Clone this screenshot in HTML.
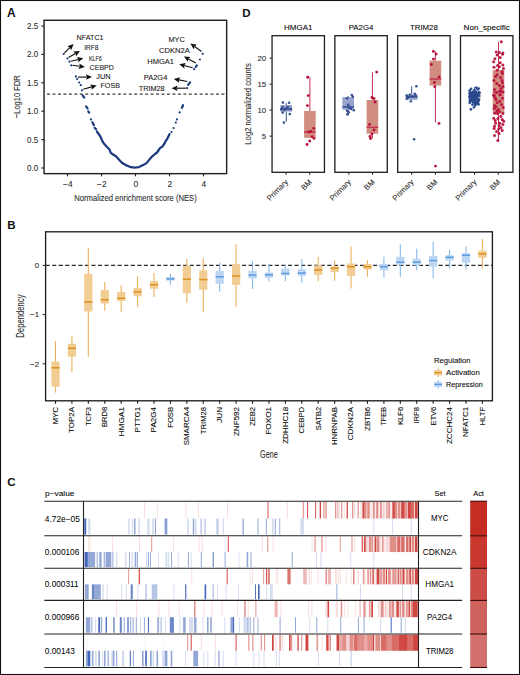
<!DOCTYPE html>
<html><head><meta charset="utf-8"><style>
html,body{margin:0;padding:0;background:#fff;}
body{width:520px;height:675px;overflow:hidden;}
svg{display:block;}
</style></head><body>
<svg width="520" height="675" viewBox="0 0 520 675" font-family="'Liberation Sans', sans-serif">
<rect x="0.5" y="0.5" width="519" height="674" fill="#fff" stroke="#111" stroke-width="1.1"/>
<text x="7.00" y="16.80" font-size="12" font-weight="bold" fill="#111">A</text>
<rect x="44.05" y="20.27" width="182.60" height="153.38" fill="none" stroke="#1e1e1e" stroke-width="1.4"/>
<line x1="41.30" y1="26.00" x2="44.05" y2="26.00" stroke="#1e1e1e" stroke-width="1.1"/>
<text x="38.20" y="28.90" font-size="8.9" stroke="#2a2a2a" stroke-width="0.08" text-anchor="end" textLength="11.20" lengthAdjust="spacingAndGlyphs" fill="#2a2a2a">2.5</text>
<line x1="41.30" y1="54.40" x2="44.05" y2="54.40" stroke="#1e1e1e" stroke-width="1.1"/>
<text x="38.20" y="57.30" font-size="8.9" stroke="#2a2a2a" stroke-width="0.08" text-anchor="end" textLength="11.20" lengthAdjust="spacingAndGlyphs" fill="#2a2a2a">2.0</text>
<line x1="41.30" y1="82.80" x2="44.05" y2="82.80" stroke="#1e1e1e" stroke-width="1.1"/>
<text x="38.20" y="85.70" font-size="8.9" stroke="#2a2a2a" stroke-width="0.08" text-anchor="end" textLength="11.20" lengthAdjust="spacingAndGlyphs" fill="#2a2a2a">1.5</text>
<line x1="41.30" y1="111.20" x2="44.05" y2="111.20" stroke="#1e1e1e" stroke-width="1.1"/>
<text x="38.20" y="114.10" font-size="8.9" stroke="#2a2a2a" stroke-width="0.08" text-anchor="end" textLength="11.20" lengthAdjust="spacingAndGlyphs" fill="#2a2a2a">1.0</text>
<line x1="41.30" y1="139.60" x2="44.05" y2="139.60" stroke="#1e1e1e" stroke-width="1.1"/>
<text x="38.20" y="142.50" font-size="8.9" stroke="#2a2a2a" stroke-width="0.08" text-anchor="end" textLength="11.20" lengthAdjust="spacingAndGlyphs" fill="#2a2a2a">0.5</text>
<line x1="41.30" y1="168.00" x2="44.05" y2="168.00" stroke="#1e1e1e" stroke-width="1.1"/>
<text x="38.20" y="170.90" font-size="8.9" stroke="#2a2a2a" stroke-width="0.08" text-anchor="end" textLength="11.20" lengthAdjust="spacingAndGlyphs" fill="#2a2a2a">0.0</text>
<line x1="67.50" y1="173.65" x2="67.50" y2="176.35" stroke="#1e1e1e" stroke-width="1.1"/>
<text x="67.80" y="187.00" font-size="8.4" stroke="#2a2a2a" stroke-width="0.08" text-anchor="middle" fill="#2a2a2a">−4</text>
<line x1="101.50" y1="173.65" x2="101.50" y2="176.35" stroke="#1e1e1e" stroke-width="1.1"/>
<text x="101.80" y="187.00" font-size="8.4" stroke="#2a2a2a" stroke-width="0.08" text-anchor="middle" fill="#2a2a2a">−2</text>
<line x1="135.50" y1="173.65" x2="135.50" y2="176.35" stroke="#1e1e1e" stroke-width="1.1"/>
<text x="135.80" y="187.00" font-size="8.4" stroke="#2a2a2a" stroke-width="0.08" text-anchor="middle" fill="#2a2a2a">0</text>
<line x1="169.50" y1="173.65" x2="169.50" y2="176.35" stroke="#1e1e1e" stroke-width="1.1"/>
<text x="169.80" y="187.00" font-size="8.4" stroke="#2a2a2a" stroke-width="0.08" text-anchor="middle" fill="#2a2a2a">2</text>
<line x1="203.50" y1="173.65" x2="203.50" y2="176.35" stroke="#1e1e1e" stroke-width="1.1"/>
<text x="203.80" y="187.00" font-size="8.4" stroke="#2a2a2a" stroke-width="0.08" text-anchor="middle" fill="#2a2a2a">4</text>
<text x="135.50" y="200.80" font-size="9.8" stroke="#2a2a2a" stroke-width="0.08" text-anchor="middle" textLength="122.50" lengthAdjust="spacingAndGlyphs" fill="#2a2a2a">Normalized enrichment score (NES)</text>
<text x="20.40" y="96.70" font-size="9.9" stroke="#2a2a2a" stroke-width="0.08" text-anchor="middle" textLength="43.00" lengthAdjust="spacingAndGlyphs" fill="#2a2a2a" transform="rotate(-90 20.40 96.70)">−Log10 FDR</text>
<line x1="47.10" y1="94.05" x2="226.65" y2="94.05" stroke="#383838" stroke-width="1.2" stroke-dasharray="2.9 2.55"/>
<path d="M96.9,131.5 L99.8,135.6 L100.6,137.0 L102.8,141.9 L104.3,144.1 L107.0,147.0 L109.4,149.3 L110.8,152.9 L113.0,154.5 L116.0,156.3 L118.0,158.5 L120.0,160.8 L122.3,163.1 L125.8,165.1 L129.8,166.8 L134.4,167.6 L139.0,167.1 L143.1,165.1 L146.5,163.1 L149.4,159.6 L152.3,156.3 L155.0,154.0 L157.0,152.5 L160.0,148.1 L162.6,146.3 L164.4,143.7 L165.6,141.1 L167.0,139.3 L169.6,134.1" fill="none" stroke="#1b3a7c" stroke-width="2.25" stroke-linejoin="round" stroke-linecap="round"/>
<path d="M86.1,106.3 L87.61,108.5" stroke="#1b3a7c" stroke-width="2.2" stroke-linecap="round" fill="none"/>
<path d="M88.3,111.5 L89.11,112.6" stroke="#1b3a7c" stroke-width="2.2" stroke-linecap="round" fill="none"/>
<path d="M90.9,119.4 L90.91000000000001,119.4" stroke="#1b3a7c" stroke-width="2.2" stroke-linecap="round" fill="none"/>
<path d="M92.4,122.2 L93.91000000000001,125.2" stroke="#1b3a7c" stroke-width="2.2" stroke-linecap="round" fill="none"/>
<path d="M94.6,127.8 L96.11,129.3" stroke="#1b3a7c" stroke-width="2.2" stroke-linecap="round" fill="none"/>
<path d="M82.7,95.3 L84.21000000000001,97.6" stroke="#1b3a7c" stroke-width="2.2" stroke-linecap="round" fill="none"/>
<path d="M81.9,90.3 L81.91000000000001,90.3" stroke="#1b3a7c" stroke-width="2.2" stroke-linecap="round" fill="none"/>
<path d="M80.8,85.2 L80.81,85.2" stroke="#1b3a7c" stroke-width="2.2" stroke-linecap="round" fill="none"/>
<path d="M79.2,82.5 L79.21000000000001,82.5" stroke="#1b3a7c" stroke-width="2.2" stroke-linecap="round" fill="none"/>
<path d="M77.2,79.1 L77.21000000000001,79.1" stroke="#1b3a7c" stroke-width="2.2" stroke-linecap="round" fill="none"/>
<path d="M75.9,76.4 L75.91000000000001,76.4" stroke="#1b3a7c" stroke-width="2.2" stroke-linecap="round" fill="none"/>
<path d="M71.2,65.3 L71.21000000000001,65.3" stroke="#1b3a7c" stroke-width="2.2" stroke-linecap="round" fill="none"/>
<path d="M69.5,61.6 L69.51,61.6" stroke="#1b3a7c" stroke-width="2.2" stroke-linecap="round" fill="none"/>
<path d="M67.4,58.5 L67.41000000000001,58.5" stroke="#1b3a7c" stroke-width="2.2" stroke-linecap="round" fill="none"/>
<path d="M63.7,54 L63.71,54" stroke="#1b3a7c" stroke-width="2.2" stroke-linecap="round" fill="none"/>
<path d="M171.5,132 L171.51,132" stroke="#1b3a7c" stroke-width="2.2" stroke-linecap="round" fill="none"/>
<path d="M173.6,128 L173.60999999999999,128" stroke="#1b3a7c" stroke-width="2.2" stroke-linecap="round" fill="none"/>
<path d="M175.8,122.6 L175.81,122.6" stroke="#1b3a7c" stroke-width="2.2" stroke-linecap="round" fill="none"/>
<path d="M176.9,119.4 L176.91,119.4" stroke="#1b3a7c" stroke-width="2.2" stroke-linecap="round" fill="none"/>
<path d="M179.6,112.4 L179.60999999999999,112.4" stroke="#1b3a7c" stroke-width="2.2" stroke-linecap="round" fill="none"/>
<path d="M183,105.2 L181.91,107.8" stroke="#1b3a7c" stroke-width="2.2" stroke-linecap="round" fill="none"/>
<path d="M187.1,88.1 L187.10999999999999,88.1" stroke="#1b3a7c" stroke-width="2.2" stroke-linecap="round" fill="none"/>
<path d="M190,82.3 L188.10999999999999,84.8" stroke="#1b3a7c" stroke-width="2.2" stroke-linecap="round" fill="none"/>
<path d="M194.2,69.2 L194.20999999999998,69.2" stroke="#1b3a7c" stroke-width="2.2" stroke-linecap="round" fill="none"/>
<path d="M196.8,65.4 L195.81,66.8" stroke="#1b3a7c" stroke-width="2.2" stroke-linecap="round" fill="none"/>
<path d="M199.9,59.5 L199.91,59.5" stroke="#1b3a7c" stroke-width="2.2" stroke-linecap="round" fill="none"/>
<path d="M202.7,53.8 L202.70999999999998,53.8" stroke="#1b3a7c" stroke-width="2.2" stroke-linecap="round" fill="none"/>
<line x1="64.40" y1="52.90" x2="69.84" y2="47.69" stroke="#111" stroke-width="1.15"/>
<path d="M73.60,44.10 L71.17,50.23 L69.91,47.63 L67.36,46.26 Z" fill="#111"/>
<line x1="68.50" y1="57.60" x2="75.42" y2="53.53" stroke="#111" stroke-width="1.15"/>
<path d="M79.90,50.90 L76.12,56.31 L75.50,53.48 L73.33,51.57 Z" fill="#111"/>
<line x1="70.90" y1="61.20" x2="78.24" y2="59.48" stroke="#111" stroke-width="1.15"/>
<path d="M83.30,58.30 L78.08,62.34 L78.33,59.46 L76.83,56.99 Z" fill="#111"/>
<line x1="72.50" y1="65.30" x2="79.75" y2="66.29" stroke="#111" stroke-width="1.15"/>
<path d="M84.90,67.00 L78.58,68.91 L79.85,66.31 L79.33,63.46 Z" fill="#111"/>
<line x1="77.90" y1="77.10" x2="86.80" y2="77.10" stroke="#111" stroke-width="1.15"/>
<path d="M92.00,77.10 L86.00,79.85 L86.90,77.10 L86.00,74.35 Z" fill="#111"/>
<line x1="83.30" y1="89.20" x2="91.69" y2="86.88" stroke="#111" stroke-width="1.15"/>
<path d="M96.70,85.50 L91.65,89.75 L91.78,86.86 L90.18,84.45 Z" fill="#111"/>
<line x1="201.50" y1="51.50" x2="194.62" y2="46.54" stroke="#111" stroke-width="1.15"/>
<path d="M190.40,43.50 L196.88,44.78 L194.54,46.48 L193.66,49.24 Z" fill="#111"/>
<line x1="195.80" y1="63.10" x2="188.45" y2="59.02" stroke="#111" stroke-width="1.15"/>
<path d="M183.90,56.50 L190.48,57.01 L188.36,58.97 L187.81,61.81 Z" fill="#111"/>
<line x1="192.70" y1="67.70" x2="184.33" y2="65.51" stroke="#111" stroke-width="1.15"/>
<path d="M179.30,64.20 L185.80,63.06 L184.23,65.49 L184.41,68.38 Z" fill="#111"/>
<line x1="187.30" y1="81.50" x2="178.91" y2="79.88" stroke="#111" stroke-width="1.15"/>
<path d="M173.80,78.90 L180.21,77.33 L178.81,79.86 L179.17,82.74 Z" fill="#111"/>
<line x1="185.80" y1="88.20" x2="176.80" y2="88.20" stroke="#111" stroke-width="1.15"/>
<path d="M171.60,88.20 L177.60,85.45 L176.70,88.20 L177.60,90.95 Z" fill="#111"/>
<text x="76.60" y="40.30" font-size="7.7" stroke="#1a1a1a" stroke-width="0.1" textLength="27.00" lengthAdjust="spacingAndGlyphs" fill="#1a1a1a">NFATC1</text>
<text x="84.20" y="50.30" font-size="7.7" stroke="#1a1a1a" stroke-width="0.1" textLength="14.20" lengthAdjust="spacingAndGlyphs" fill="#1a1a1a">IRF8</text>
<text x="88.90" y="60.50" font-size="7.7" stroke="#1a1a1a" stroke-width="0.1" textLength="12.90" lengthAdjust="spacingAndGlyphs" fill="#1a1a1a">KLF6</text>
<text x="89.60" y="69.50" font-size="7.7" stroke="#1a1a1a" stroke-width="0.1" textLength="24.30" lengthAdjust="spacingAndGlyphs" fill="#1a1a1a">CEBPD</text>
<text x="96.30" y="78.50" font-size="7.7" stroke="#1a1a1a" stroke-width="0.1" textLength="14.30" lengthAdjust="spacingAndGlyphs" fill="#1a1a1a">JUN</text>
<text x="100.40" y="88.30" font-size="7.7" stroke="#1a1a1a" stroke-width="0.1" textLength="19.60" lengthAdjust="spacingAndGlyphs" fill="#1a1a1a">FOSB</text>
<text x="168.40" y="41.80" font-size="7.7" stroke="#1a1a1a" stroke-width="0.1" textLength="16.30" lengthAdjust="spacingAndGlyphs" fill="#1a1a1a">MYC</text>
<text x="159.10" y="52.60" font-size="7.7" stroke="#1a1a1a" stroke-width="0.1" textLength="30.70" lengthAdjust="spacingAndGlyphs" fill="#1a1a1a">CDKN2A</text>
<text x="147.30" y="63.60" font-size="7.7" stroke="#1a1a1a" stroke-width="0.1" textLength="26.60" lengthAdjust="spacingAndGlyphs" fill="#1a1a1a">HMGA1</text>
<text x="143.80" y="80.30" font-size="7.7" stroke="#1a1a1a" stroke-width="0.1" textLength="23.50" lengthAdjust="spacingAndGlyphs" fill="#1a1a1a">PA2G4</text>
<text x="138.70" y="90.90" font-size="7.7" stroke="#1a1a1a" stroke-width="0.1" textLength="26.00" lengthAdjust="spacingAndGlyphs" fill="#1a1a1a">TRIM28</text>
<text x="242.30" y="16.60" font-size="11.5" font-weight="bold" fill="#111">D</text>
<rect x="272.05" y="35.70" width="52.40" height="136.60" fill="none" stroke="#1e1e1e" stroke-width="1.3"/>
<text x="298.25" y="30.00" font-size="7.6" stroke="#222" stroke-width="0.08" text-anchor="middle" textLength="28.60" lengthAdjust="spacingAndGlyphs">HMGA1</text>
<line x1="286.05" y1="172.30" x2="286.05" y2="174.80" stroke="#1e1e1e" stroke-width="1"/>
<line x1="309.75" y1="172.30" x2="309.75" y2="174.80" stroke="#1e1e1e" stroke-width="1"/>
<rect x="334.87" y="35.70" width="52.40" height="136.60" fill="none" stroke="#1e1e1e" stroke-width="1.3"/>
<text x="361.07" y="30.00" font-size="7.6" stroke="#222" stroke-width="0.08" text-anchor="middle" textLength="24.70" lengthAdjust="spacingAndGlyphs">PA2G4</text>
<line x1="348.87" y1="172.30" x2="348.87" y2="174.80" stroke="#1e1e1e" stroke-width="1"/>
<line x1="372.57" y1="172.30" x2="372.57" y2="174.80" stroke="#1e1e1e" stroke-width="1"/>
<rect x="397.69" y="35.70" width="52.40" height="136.60" fill="none" stroke="#1e1e1e" stroke-width="1.3"/>
<text x="423.89" y="30.00" font-size="7.6" stroke="#222" stroke-width="0.08" text-anchor="middle" textLength="27.70" lengthAdjust="spacingAndGlyphs">TRIM28</text>
<line x1="411.69" y1="172.30" x2="411.69" y2="174.80" stroke="#1e1e1e" stroke-width="1"/>
<line x1="435.39" y1="172.30" x2="435.39" y2="174.80" stroke="#1e1e1e" stroke-width="1"/>
<rect x="460.51" y="35.70" width="52.40" height="136.60" fill="none" stroke="#1e1e1e" stroke-width="1.3"/>
<text x="486.71" y="30.00" font-size="7.6" stroke="#222" stroke-width="0.08" text-anchor="middle" textLength="46.20" lengthAdjust="spacingAndGlyphs">Non_specific</text>
<line x1="474.51" y1="172.30" x2="474.51" y2="174.80" stroke="#1e1e1e" stroke-width="1"/>
<line x1="498.21" y1="172.30" x2="498.21" y2="174.80" stroke="#1e1e1e" stroke-width="1"/>
<line x1="269.50" y1="58.10" x2="272.00" y2="58.10" stroke="#1e1e1e" stroke-width="1"/>
<text x="266.10" y="60.85" font-size="7.8" stroke="#2a2a2a" stroke-width="0.08" text-anchor="end" fill="#2a2a2a">20</text>
<line x1="269.50" y1="84.10" x2="272.00" y2="84.10" stroke="#1e1e1e" stroke-width="1"/>
<text x="266.10" y="86.85" font-size="7.8" stroke="#2a2a2a" stroke-width="0.08" text-anchor="end" fill="#2a2a2a">15</text>
<line x1="269.50" y1="110.10" x2="272.00" y2="110.10" stroke="#1e1e1e" stroke-width="1"/>
<text x="266.10" y="112.85" font-size="7.8" stroke="#2a2a2a" stroke-width="0.08" text-anchor="end" fill="#2a2a2a">10</text>
<line x1="269.50" y1="136.10" x2="272.00" y2="136.10" stroke="#1e1e1e" stroke-width="1"/>
<text x="266.10" y="138.85" font-size="7.8" stroke="#2a2a2a" stroke-width="0.08" text-anchor="end" fill="#2a2a2a">5</text>
<text x="250.70" y="103.90" font-size="9.4" stroke="#2a2a2a" stroke-width="0.08" text-anchor="middle" textLength="81.50" lengthAdjust="spacingAndGlyphs" fill="#2a2a2a" transform="rotate(-90 250.70 103.90)">Log2 normalized counts</text>
<text x="288.65" y="182.50" font-size="7.7" stroke="#2a2a2a" stroke-width="0.08" text-anchor="end" fill="#2a2a2a" transform="rotate(-45 288.65 182.50)">Primary</text>
<text x="312.35" y="182.50" font-size="7.7" stroke="#2a2a2a" stroke-width="0.08" text-anchor="end" fill="#2a2a2a" transform="rotate(-45 312.35 182.50)">BM</text>
<text x="351.47" y="182.50" font-size="7.7" stroke="#2a2a2a" stroke-width="0.08" text-anchor="end" fill="#2a2a2a" transform="rotate(-45 351.47 182.50)">Primary</text>
<text x="375.17" y="182.50" font-size="7.7" stroke="#2a2a2a" stroke-width="0.08" text-anchor="end" fill="#2a2a2a" transform="rotate(-45 375.17 182.50)">BM</text>
<text x="414.29" y="182.50" font-size="7.7" stroke="#2a2a2a" stroke-width="0.08" text-anchor="end" fill="#2a2a2a" transform="rotate(-45 414.29 182.50)">Primary</text>
<text x="437.99" y="182.50" font-size="7.7" stroke="#2a2a2a" stroke-width="0.08" text-anchor="end" fill="#2a2a2a" transform="rotate(-45 437.99 182.50)">BM</text>
<text x="477.11" y="182.50" font-size="7.7" stroke="#2a2a2a" stroke-width="0.08" text-anchor="end" fill="#2a2a2a" transform="rotate(-45 477.11 182.50)">Primary</text>
<text x="500.81" y="182.50" font-size="7.7" stroke="#2a2a2a" stroke-width="0.08" text-anchor="end" fill="#2a2a2a" transform="rotate(-45 500.81 182.50)">BM</text>
<line x1="286.30" y1="103.20" x2="286.30" y2="105.00" stroke="#334f8e" stroke-width="1"/>
<line x1="286.30" y1="111.70" x2="286.30" y2="121.70" stroke="#334f8e" stroke-width="1"/>
<rect x="280.50" y="105.00" width="11.60" height="6.70" fill="#98a2cd"/>
<line x1="280.50" y1="109.20" x2="292.10" y2="109.20" stroke="#334f8e" stroke-width="1.5"/>
<circle cx="282.90" cy="102.60" r="1.3" fill="#2b4a8c" fill-opacity="0.95"/>
<circle cx="289.10" cy="102.80" r="1.3" fill="#2b4a8c" fill-opacity="0.95"/>
<circle cx="282.40" cy="107.20" r="1.3" fill="#2b4a8c" fill-opacity="0.95"/>
<circle cx="287.80" cy="107.00" r="1.3" fill="#2b4a8c" fill-opacity="0.95"/>
<circle cx="281.30" cy="109.20" r="1.3" fill="#2b4a8c" fill-opacity="0.95"/>
<circle cx="282.70" cy="112.60" r="1.3" fill="#2b4a8c" fill-opacity="0.95"/>
<circle cx="289.80" cy="114.10" r="1.3" fill="#2b4a8c" fill-opacity="0.95"/>
<circle cx="283.90" cy="122.60" r="1.3" fill="#2b4a8c" fill-opacity="0.95"/>
<circle cx="290.70" cy="109.00" r="1.3" fill="#2b4a8c" fill-opacity="0.95"/>
<circle cx="284.50" cy="110.00" r="1.3" fill="#2b4a8c" fill-opacity="0.95"/>
<circle cx="286.00" cy="108.50" r="1.3" fill="#2b4a8c" fill-opacity="0.95"/>
<line x1="309.90" y1="77.30" x2="309.90" y2="111.00" stroke="#c43255" stroke-width="1"/>
<line x1="309.90" y1="137.80" x2="309.90" y2="137.80" stroke="#c43255" stroke-width="1"/>
<rect x="304.10" y="111.00" width="11.60" height="26.80" fill="#d08d80"/>
<line x1="304.10" y1="132.00" x2="315.70" y2="132.00" stroke="#c43255" stroke-width="1.5"/>
<circle cx="307.70" cy="77.30" r="1.45" fill="#b8123c"/>
<circle cx="308.30" cy="95.60" r="1.45" fill="#b8123c"/>
<circle cx="307.40" cy="105.60" r="1.45" fill="#b8123c"/>
<circle cx="313.70" cy="128.40" r="1.45" fill="#b8123c"/>
<circle cx="308.80" cy="132.00" r="1.45" fill="#b8123c"/>
<circle cx="311.00" cy="131.50" r="1.45" fill="#b8123c"/>
<circle cx="312.00" cy="136.70" r="1.45" fill="#b8123c"/>
<circle cx="314.00" cy="138.40" r="1.45" fill="#b8123c"/>
<circle cx="309.70" cy="141.00" r="1.45" fill="#b8123c"/>
<circle cx="307.10" cy="144.50" r="1.45" fill="#b8123c"/>
<line x1="348.20" y1="96.00" x2="348.20" y2="97.10" stroke="#334f8e" stroke-width="1"/>
<line x1="348.20" y1="109.80" x2="348.20" y2="115.60" stroke="#334f8e" stroke-width="1"/>
<rect x="342.40" y="97.10" width="11.60" height="12.70" fill="#98a2cd"/>
<line x1="342.40" y1="106.90" x2="354.00" y2="106.90" stroke="#334f8e" stroke-width="1.5"/>
<circle cx="347.10" cy="98.20" r="1.3" fill="#2b4a8c" fill-opacity="0.95"/>
<circle cx="351.80" cy="95.10" r="1.3" fill="#2b4a8c" fill-opacity="0.95"/>
<circle cx="352.90" cy="96.70" r="1.3" fill="#2b4a8c" fill-opacity="0.95"/>
<circle cx="348.20" cy="104.70" r="1.3" fill="#2b4a8c" fill-opacity="0.95"/>
<circle cx="348.90" cy="107.60" r="1.3" fill="#2b4a8c" fill-opacity="0.95"/>
<circle cx="350.90" cy="108.90" r="1.3" fill="#2b4a8c" fill-opacity="0.95"/>
<circle cx="347.10" cy="110.70" r="1.3" fill="#2b4a8c" fill-opacity="0.95"/>
<circle cx="353.80" cy="110.20" r="1.3" fill="#2b4a8c" fill-opacity="0.95"/>
<circle cx="347.30" cy="114.20" r="1.3" fill="#2b4a8c" fill-opacity="0.95"/>
<circle cx="348.70" cy="112.20" r="1.3" fill="#2b4a8c" fill-opacity="0.95"/>
<line x1="372.40" y1="72.10" x2="372.40" y2="100.00" stroke="#c43255" stroke-width="1"/>
<line x1="372.40" y1="133.70" x2="372.40" y2="138.50" stroke="#c43255" stroke-width="1"/>
<rect x="366.60" y="100.00" width="11.60" height="33.70" fill="#d08d80"/>
<line x1="366.60" y1="127.30" x2="378.20" y2="127.30" stroke="#c43255" stroke-width="1.5"/>
<circle cx="376.70" cy="72.10" r="1.45" fill="#b8123c"/>
<circle cx="372.00" cy="97.50" r="1.45" fill="#b8123c"/>
<circle cx="374.00" cy="98.50" r="1.45" fill="#b8123c"/>
<circle cx="375.00" cy="102.00" r="1.45" fill="#b8123c"/>
<circle cx="369.50" cy="124.50" r="1.45" fill="#b8123c"/>
<circle cx="374.00" cy="130.00" r="1.45" fill="#b8123c"/>
<circle cx="372.00" cy="134.00" r="1.45" fill="#b8123c"/>
<circle cx="370.00" cy="136.50" r="1.45" fill="#b8123c"/>
<circle cx="370.50" cy="138.50" r="1.45" fill="#b8123c"/>
<line x1="411.70" y1="86.20" x2="411.70" y2="94.70" stroke="#334f8e" stroke-width="1"/>
<line x1="411.70" y1="99.80" x2="411.70" y2="99.80" stroke="#334f8e" stroke-width="1"/>
<rect x="405.90" y="94.70" width="11.60" height="5.10" fill="#98a2cd"/>
<line x1="405.90" y1="96.80" x2="417.50" y2="96.80" stroke="#334f8e" stroke-width="1.5"/>
<circle cx="416.40" cy="86.20" r="1.3" fill="#2b4a8c" fill-opacity="0.95"/>
<circle cx="414.70" cy="93.70" r="1.3" fill="#2b4a8c" fill-opacity="0.95"/>
<circle cx="415.60" cy="95.10" r="1.3" fill="#2b4a8c" fill-opacity="0.95"/>
<circle cx="406.70" cy="95.60" r="1.3" fill="#2b4a8c" fill-opacity="0.95"/>
<circle cx="409.80" cy="94.70" r="1.3" fill="#2b4a8c" fill-opacity="0.95"/>
<circle cx="406.70" cy="98.70" r="1.3" fill="#2b4a8c" fill-opacity="0.95"/>
<circle cx="410.90" cy="101.30" r="1.3" fill="#2b4a8c" fill-opacity="0.95"/>
<circle cx="414.10" cy="139.20" r="1.3" fill="#2b4a8c" fill-opacity="0.95"/>
<circle cx="412.50" cy="96.20" r="1.3" fill="#2b4a8c" fill-opacity="0.95"/>
<circle cx="408.20" cy="97.20" r="1.3" fill="#2b4a8c" fill-opacity="0.95"/>
<line x1="435.40" y1="51.40" x2="435.40" y2="60.70" stroke="#c43255" stroke-width="1"/>
<line x1="435.40" y1="85.60" x2="435.40" y2="122.60" stroke="#c43255" stroke-width="1"/>
<rect x="429.60" y="60.70" width="11.60" height="24.90" fill="#d08d80"/>
<line x1="429.60" y1="79.00" x2="441.20" y2="79.00" stroke="#c43255" stroke-width="1.5"/>
<circle cx="433.40" cy="51.40" r="1.45" fill="#b8123c"/>
<circle cx="436.10" cy="54.10" r="1.45" fill="#b8123c"/>
<circle cx="433.40" cy="59.10" r="1.45" fill="#b8123c"/>
<circle cx="431.30" cy="64.50" r="1.45" fill="#b8123c"/>
<circle cx="439.00" cy="76.90" r="1.45" fill="#b8123c"/>
<circle cx="434.40" cy="82.50" r="1.45" fill="#b8123c"/>
<circle cx="434.80" cy="86.70" r="1.45" fill="#b8123c"/>
<circle cx="439.00" cy="123.40" r="1.45" fill="#b8123c"/>
<circle cx="435.50" cy="166.10" r="1.45" fill="#b8123c"/>
<line x1="474.60" y1="87.00" x2="474.60" y2="92.00" stroke="#334f8e" stroke-width="1"/>
<line x1="474.60" y1="100.00" x2="474.60" y2="106.00" stroke="#334f8e" stroke-width="1"/>
<rect x="468.80" y="92.00" width="11.60" height="8.00" fill="#98a2cd"/>
<line x1="468.80" y1="96.00" x2="480.40" y2="96.00" stroke="#334f8e" stroke-width="1.5"/>
<circle cx="472.77" cy="93.38" r="1.35" fill="#2b4a8c" fill-opacity="0.95"/>
<circle cx="475.98" cy="92.45" r="1.35" fill="#2b4a8c" fill-opacity="0.95"/>
<circle cx="474.85" cy="95.92" r="1.35" fill="#2b4a8c" fill-opacity="0.95"/>
<circle cx="470.17" cy="97.59" r="1.35" fill="#2b4a8c" fill-opacity="0.95"/>
<circle cx="469.97" cy="96.72" r="1.35" fill="#2b4a8c" fill-opacity="0.95"/>
<circle cx="470.28" cy="92.67" r="1.35" fill="#2b4a8c" fill-opacity="0.95"/>
<circle cx="473.76" cy="101.36" r="1.35" fill="#2b4a8c" fill-opacity="0.95"/>
<circle cx="470.81" cy="94.23" r="1.35" fill="#2b4a8c" fill-opacity="0.95"/>
<circle cx="475.75" cy="102.78" r="1.35" fill="#2b4a8c" fill-opacity="0.95"/>
<circle cx="475.26" cy="96.28" r="1.35" fill="#2b4a8c" fill-opacity="0.95"/>
<circle cx="479.17" cy="92.15" r="1.35" fill="#2b4a8c" fill-opacity="0.95"/>
<circle cx="478.01" cy="95.02" r="1.35" fill="#2b4a8c" fill-opacity="0.95"/>
<circle cx="471.01" cy="92.99" r="1.35" fill="#2b4a8c" fill-opacity="0.95"/>
<circle cx="472.62" cy="101.23" r="1.35" fill="#2b4a8c" fill-opacity="0.95"/>
<circle cx="471.37" cy="98.46" r="1.35" fill="#2b4a8c" fill-opacity="0.95"/>
<circle cx="475.86" cy="95.99" r="1.35" fill="#2b4a8c" fill-opacity="0.95"/>
<circle cx="474.97" cy="92.34" r="1.35" fill="#2b4a8c" fill-opacity="0.95"/>
<circle cx="470.18" cy="94.03" r="1.35" fill="#2b4a8c" fill-opacity="0.95"/>
<circle cx="476.27" cy="96.65" r="1.35" fill="#2b4a8c" fill-opacity="0.95"/>
<circle cx="472.68" cy="98.51" r="1.35" fill="#2b4a8c" fill-opacity="0.95"/>
<circle cx="474.04" cy="95.14" r="1.35" fill="#2b4a8c" fill-opacity="0.95"/>
<circle cx="477.38" cy="99.85" r="1.35" fill="#2b4a8c" fill-opacity="0.95"/>
<circle cx="471.99" cy="98.38" r="1.35" fill="#2b4a8c" fill-opacity="0.95"/>
<circle cx="474.75" cy="101.93" r="1.35" fill="#2b4a8c" fill-opacity="0.95"/>
<circle cx="476.75" cy="95.00" r="1.35" fill="#2b4a8c" fill-opacity="0.95"/>
<circle cx="479.21" cy="92.99" r="1.35" fill="#2b4a8c" fill-opacity="0.95"/>
<circle cx="473.70" cy="100.53" r="1.35" fill="#2b4a8c" fill-opacity="0.95"/>
<circle cx="471.09" cy="97.37" r="1.35" fill="#2b4a8c" fill-opacity="0.95"/>
<circle cx="469.98" cy="99.48" r="1.35" fill="#2b4a8c" fill-opacity="0.95"/>
<circle cx="477.09" cy="98.36" r="1.35" fill="#2b4a8c" fill-opacity="0.95"/>
<circle cx="478.18" cy="95.30" r="1.35" fill="#2b4a8c" fill-opacity="0.95"/>
<circle cx="476.41" cy="98.61" r="1.35" fill="#2b4a8c" fill-opacity="0.95"/>
<circle cx="475.28" cy="96.98" r="1.35" fill="#2b4a8c" fill-opacity="0.95"/>
<circle cx="477.83" cy="102.75" r="1.35" fill="#2b4a8c" fill-opacity="0.95"/>
<circle cx="474.25" cy="99.44" r="1.35" fill="#2b4a8c" fill-opacity="0.95"/>
<circle cx="470.19" cy="99.88" r="1.35" fill="#2b4a8c" fill-opacity="0.95"/>
<circle cx="475.94" cy="103.32" r="1.35" fill="#2b4a8c" fill-opacity="0.95"/>
<circle cx="477.65" cy="94.96" r="1.35" fill="#2b4a8c" fill-opacity="0.95"/>
<circle cx="473.38" cy="99.49" r="1.35" fill="#2b4a8c" fill-opacity="0.95"/>
<circle cx="469.82" cy="97.05" r="1.35" fill="#2b4a8c" fill-opacity="0.95"/>
<circle cx="471.25" cy="92.98" r="1.35" fill="#2b4a8c" fill-opacity="0.95"/>
<circle cx="470.18" cy="100.67" r="1.35" fill="#2b4a8c" fill-opacity="0.95"/>
<circle cx="470.87" cy="94.52" r="1.35" fill="#2b4a8c" fill-opacity="0.95"/>
<circle cx="473.43" cy="101.88" r="1.35" fill="#2b4a8c" fill-opacity="0.95"/>
<circle cx="470.39" cy="96.90" r="1.35" fill="#2b4a8c" fill-opacity="0.95"/>
<circle cx="474.98" cy="102.02" r="1.35" fill="#2b4a8c" fill-opacity="0.95"/>
<circle cx="477.63" cy="101.80" r="1.35" fill="#2b4a8c" fill-opacity="0.95"/>
<circle cx="472.33" cy="96.50" r="1.35" fill="#2b4a8c" fill-opacity="0.95"/>
<circle cx="473.12" cy="102.03" r="1.35" fill="#2b4a8c" fill-opacity="0.95"/>
<circle cx="478.99" cy="93.38" r="1.35" fill="#2b4a8c" fill-opacity="0.95"/>
<circle cx="471.33" cy="94.34" r="1.35" fill="#2b4a8c" fill-opacity="0.95"/>
<circle cx="471.89" cy="97.32" r="1.35" fill="#2b4a8c" fill-opacity="0.95"/>
<circle cx="475.37" cy="94.70" r="1.35" fill="#2b4a8c" fill-opacity="0.95"/>
<circle cx="469.64" cy="96.54" r="1.35" fill="#2b4a8c" fill-opacity="0.95"/>
<circle cx="473.22" cy="98.28" r="1.35" fill="#2b4a8c" fill-opacity="0.95"/>
<circle cx="478.94" cy="99.75" r="1.35" fill="#2b4a8c" fill-opacity="0.95"/>
<circle cx="474.65" cy="98.89" r="1.35" fill="#2b4a8c" fill-opacity="0.95"/>
<circle cx="476.23" cy="92.24" r="1.35" fill="#2b4a8c" fill-opacity="0.95"/>
<circle cx="478.42" cy="100.80" r="1.35" fill="#2b4a8c" fill-opacity="0.95"/>
<circle cx="478.17" cy="101.01" r="1.35" fill="#2b4a8c" fill-opacity="0.95"/>
<circle cx="473.45" cy="96.31" r="1.35" fill="#2b4a8c" fill-opacity="0.95"/>
<circle cx="470.61" cy="99.08" r="1.35" fill="#2b4a8c" fill-opacity="0.95"/>
<circle cx="470.21" cy="92.39" r="1.35" fill="#2b4a8c" fill-opacity="0.95"/>
<circle cx="471.65" cy="93.52" r="1.35" fill="#2b4a8c" fill-opacity="0.95"/>
<circle cx="472.93" cy="92.22" r="1.35" fill="#2b4a8c" fill-opacity="0.95"/>
<circle cx="469.60" cy="93.38" r="1.35" fill="#2b4a8c" fill-opacity="0.95"/>
<circle cx="470.59" cy="95.89" r="1.35" fill="#2b4a8c" fill-opacity="0.95"/>
<circle cx="469.85" cy="101.92" r="1.35" fill="#2b4a8c" fill-opacity="0.95"/>
<circle cx="475.62" cy="93.35" r="1.35" fill="#2b4a8c" fill-opacity="0.95"/>
<circle cx="472.07" cy="95.70" r="1.35" fill="#2b4a8c" fill-opacity="0.95"/>
<circle cx="473.17" cy="93.05" r="1.35" fill="#2b4a8c" fill-opacity="0.95"/>
<circle cx="477.92" cy="103.32" r="1.35" fill="#2b4a8c" fill-opacity="0.95"/>
<circle cx="474.17" cy="97.31" r="1.35" fill="#2b4a8c" fill-opacity="0.95"/>
<circle cx="470.44" cy="92.81" r="1.35" fill="#2b4a8c" fill-opacity="0.95"/>
<circle cx="472.96" cy="94.72" r="1.35" fill="#2b4a8c" fill-opacity="0.95"/>
<circle cx="477.72" cy="93.50" r="1.35" fill="#2b4a8c" fill-opacity="0.95"/>
<circle cx="469.83" cy="102.82" r="1.35" fill="#2b4a8c" fill-opacity="0.95"/>
<circle cx="474.78" cy="93.33" r="1.35" fill="#2b4a8c" fill-opacity="0.95"/>
<circle cx="474.92" cy="91.92" r="1.35" fill="#2b4a8c" fill-opacity="0.95"/>
<circle cx="474.78" cy="103.15" r="1.35" fill="#2b4a8c" fill-opacity="0.95"/>
<circle cx="478.06" cy="99.82" r="1.35" fill="#2b4a8c" fill-opacity="0.95"/>
<circle cx="472.16" cy="95.93" r="1.35" fill="#2b4a8c" fill-opacity="0.95"/>
<circle cx="471.24" cy="100.71" r="1.35" fill="#2b4a8c" fill-opacity="0.95"/>
<circle cx="474.82" cy="100.79" r="1.35" fill="#2b4a8c" fill-opacity="0.95"/>
<circle cx="472.83" cy="94.23" r="1.35" fill="#2b4a8c" fill-opacity="0.95"/>
<circle cx="477.55" cy="103.22" r="1.35" fill="#2b4a8c" fill-opacity="0.95"/>
<circle cx="477.96" cy="101.11" r="1.35" fill="#2b4a8c" fill-opacity="0.95"/>
<circle cx="477.62" cy="100.33" r="1.35" fill="#2b4a8c" fill-opacity="0.95"/>
<circle cx="471.82" cy="97.71" r="1.35" fill="#2b4a8c" fill-opacity="0.95"/>
<circle cx="473.08" cy="91.94" r="1.35" fill="#2b4a8c" fill-opacity="0.95"/>
<circle cx="471.10" cy="88.90" r="1.35" fill="#2b4a8c"/>
<circle cx="476.30" cy="87.60" r="1.35" fill="#2b4a8c"/>
<circle cx="478.70" cy="88.50" r="1.35" fill="#2b4a8c"/>
<circle cx="477.50" cy="89.50" r="1.35" fill="#2b4a8c"/>
<circle cx="474.50" cy="90.20" r="1.35" fill="#2b4a8c"/>
<circle cx="469.50" cy="90.50" r="1.35" fill="#2b4a8c"/>
<circle cx="475.40" cy="105.20" r="1.35" fill="#2b4a8c"/>
<circle cx="474.00" cy="107.30" r="1.35" fill="#2b4a8c"/>
<circle cx="470.90" cy="109.30" r="1.35" fill="#2b4a8c"/>
<circle cx="472.50" cy="104.60" r="1.35" fill="#2b4a8c"/>
<circle cx="478.50" cy="104.30" r="1.35" fill="#2b4a8c"/>
<line x1="498.50" y1="41.80" x2="498.50" y2="70.10" stroke="#c43255" stroke-width="1"/>
<line x1="498.50" y1="113.60" x2="498.50" y2="140.90" stroke="#c43255" stroke-width="1"/>
<rect x="492.70" y="70.10" width="11.60" height="43.50" fill="#d08d80"/>
<line x1="492.70" y1="92.00" x2="504.30" y2="92.00" stroke="#c43255" stroke-width="1.5"/>
<circle cx="501.30" cy="41.80" r="1.5" fill="#b8123c" fill-opacity="0.95"/>
<circle cx="496.20" cy="52.00" r="1.5" fill="#b8123c" fill-opacity="0.95"/>
<circle cx="499.40" cy="52.50" r="1.5" fill="#b8123c" fill-opacity="0.95"/>
<circle cx="502.90" cy="52.90" r="1.5" fill="#b8123c" fill-opacity="0.95"/>
<circle cx="502.50" cy="54.30" r="1.5" fill="#b8123c" fill-opacity="0.95"/>
<circle cx="497.10" cy="55.10" r="1.5" fill="#b8123c" fill-opacity="0.95"/>
<circle cx="500.20" cy="57.40" r="1.5" fill="#b8123c" fill-opacity="0.95"/>
<circle cx="494.90" cy="58.70" r="1.5" fill="#b8123c" fill-opacity="0.95"/>
<circle cx="493.60" cy="61.80" r="1.5" fill="#b8123c" fill-opacity="0.95"/>
<circle cx="500.20" cy="62.70" r="1.5" fill="#b8123c" fill-opacity="0.95"/>
<circle cx="502.90" cy="64.90" r="1.5" fill="#b8123c" fill-opacity="0.95"/>
<circle cx="497.60" cy="65.40" r="1.5" fill="#b8123c" fill-opacity="0.95"/>
<circle cx="494.00" cy="67.20" r="1.5" fill="#b8123c" fill-opacity="0.95"/>
<circle cx="499.40" cy="66.70" r="1.5" fill="#b8123c" fill-opacity="0.95"/>
<circle cx="497.10" cy="70.30" r="1.5" fill="#b8123c" fill-opacity="0.95"/>
<circle cx="502.00" cy="71.60" r="1.5" fill="#b8123c" fill-opacity="0.95"/>
<circle cx="502.50" cy="73.40" r="1.5" fill="#b8123c" fill-opacity="0.95"/>
<circle cx="497.10" cy="74.70" r="1.5" fill="#b8123c" fill-opacity="0.95"/>
<circle cx="494.00" cy="80.50" r="1.5" fill="#b8123c" fill-opacity="0.95"/>
<circle cx="502.00" cy="80.50" r="1.5" fill="#b8123c" fill-opacity="0.95"/>
<circle cx="496.70" cy="83.60" r="1.5" fill="#b8123c" fill-opacity="0.95"/>
<circle cx="502.50" cy="82.70" r="1.5" fill="#b8123c" fill-opacity="0.95"/>
<circle cx="499.40" cy="85.40" r="1.5" fill="#b8123c" fill-opacity="0.95"/>
<circle cx="494.50" cy="89.40" r="1.5" fill="#b8123c" fill-opacity="0.95"/>
<circle cx="501.10" cy="88.50" r="1.5" fill="#b8123c" fill-opacity="0.95"/>
<circle cx="500.20" cy="90.80" r="1.5" fill="#b8123c" fill-opacity="0.95"/>
<circle cx="494.00" cy="95.20" r="1.5" fill="#b8123c" fill-opacity="0.95"/>
<circle cx="499.80" cy="94.80" r="1.5" fill="#b8123c" fill-opacity="0.95"/>
<circle cx="493.70" cy="95.20" r="1.5" fill="#b8123c" fill-opacity="0.95"/>
<circle cx="500.20" cy="94.80" r="1.5" fill="#b8123c" fill-opacity="0.95"/>
<circle cx="502.50" cy="98.20" r="1.5" fill="#b8123c" fill-opacity="0.95"/>
<circle cx="496.00" cy="99.40" r="1.5" fill="#b8123c" fill-opacity="0.95"/>
<circle cx="499.80" cy="101.30" r="1.5" fill="#b8123c" fill-opacity="0.95"/>
<circle cx="497.20" cy="102.80" r="1.5" fill="#b8123c" fill-opacity="0.95"/>
<circle cx="494.50" cy="105.50" r="1.5" fill="#b8123c" fill-opacity="0.95"/>
<circle cx="496.00" cy="106.70" r="1.5" fill="#b8123c" fill-opacity="0.95"/>
<circle cx="494.10" cy="108.60" r="1.5" fill="#b8123c" fill-opacity="0.95"/>
<circle cx="498.30" cy="109.40" r="1.5" fill="#b8123c" fill-opacity="0.95"/>
<circle cx="499.50" cy="111.70" r="1.5" fill="#b8123c" fill-opacity="0.95"/>
<circle cx="494.80" cy="113.20" r="1.5" fill="#b8123c" fill-opacity="0.95"/>
<circle cx="502.90" cy="113.60" r="1.5" fill="#b8123c" fill-opacity="0.95"/>
<circle cx="497.50" cy="113.60" r="1.5" fill="#b8123c" fill-opacity="0.95"/>
<circle cx="493.70" cy="118.20" r="1.5" fill="#b8123c" fill-opacity="0.95"/>
<circle cx="497.90" cy="118.60" r="1.5" fill="#b8123c" fill-opacity="0.95"/>
<circle cx="502.20" cy="119.40" r="1.5" fill="#b8123c" fill-opacity="0.95"/>
<circle cx="503.70" cy="121.30" r="1.5" fill="#b8123c" fill-opacity="0.95"/>
<circle cx="495.60" cy="123.20" r="1.5" fill="#b8123c" fill-opacity="0.95"/>
<circle cx="499.80" cy="123.20" r="1.5" fill="#b8123c" fill-opacity="0.95"/>
<circle cx="502.90" cy="124.40" r="1.5" fill="#b8123c" fill-opacity="0.95"/>
<circle cx="494.50" cy="126.30" r="1.5" fill="#b8123c" fill-opacity="0.95"/>
<circle cx="499.10" cy="125.90" r="1.5" fill="#b8123c" fill-opacity="0.95"/>
<circle cx="494.10" cy="128.60" r="1.5" fill="#b8123c" fill-opacity="0.95"/>
<circle cx="498.70" cy="129.00" r="1.5" fill="#b8123c" fill-opacity="0.95"/>
<circle cx="502.20" cy="130.50" r="1.5" fill="#b8123c" fill-opacity="0.95"/>
<circle cx="494.50" cy="135.50" r="1.5" fill="#b8123c" fill-opacity="0.95"/>
<circle cx="497.90" cy="140.50" r="1.5" fill="#b8123c" fill-opacity="0.95"/>
<circle cx="495.50" cy="76.50" r="1.5" fill="#b8123c" fill-opacity="0.95"/>
<circle cx="500.50" cy="77.50" r="1.5" fill="#b8123c" fill-opacity="0.95"/>
<circle cx="503.00" cy="86.50" r="1.5" fill="#b8123c" fill-opacity="0.95"/>
<circle cx="496.50" cy="92.50" r="1.5" fill="#b8123c" fill-opacity="0.95"/>
<circle cx="502.80" cy="92.00" r="1.5" fill="#b8123c" fill-opacity="0.95"/>
<circle cx="495.00" cy="97.50" r="1.5" fill="#b8123c" fill-opacity="0.95"/>
<circle cx="501.50" cy="104.50" r="1.5" fill="#b8123c" fill-opacity="0.95"/>
<circle cx="503.20" cy="107.50" r="1.5" fill="#b8123c" fill-opacity="0.95"/>
<circle cx="496.80" cy="111.00" r="1.5" fill="#b8123c" fill-opacity="0.95"/>
<circle cx="500.80" cy="116.20" r="1.5" fill="#b8123c" fill-opacity="0.95"/>
<circle cx="495.20" cy="120.50" r="1.5" fill="#b8123c" fill-opacity="0.95"/>
<circle cx="501.00" cy="127.80" r="1.5" fill="#b8123c" fill-opacity="0.95"/>
<circle cx="496.50" cy="131.50" r="1.5" fill="#b8123c" fill-opacity="0.95"/>
<circle cx="499.00" cy="133.50" r="1.5" fill="#b8123c" fill-opacity="0.95"/>
<circle cx="503.50" cy="68.50" r="1.5" fill="#b8123c" fill-opacity="0.95"/>
<text x="7.30" y="228.60" font-size="11.5" font-weight="bold" fill="#111">B</text>
<rect x="45.60" y="231.80" width="446.80" height="169.00" fill="none" stroke="#1e1e1e" stroke-width="1.35"/>
<line x1="42.60" y1="265.40" x2="45.60" y2="265.40" stroke="#1e1e1e" stroke-width="1"/>
<text x="39.00" y="268.20" font-size="7.8" stroke="#2a2a2a" stroke-width="0.08" text-anchor="end" fill="#2a2a2a">0</text>
<line x1="42.60" y1="314.60" x2="45.60" y2="314.60" stroke="#1e1e1e" stroke-width="1"/>
<text x="39.00" y="317.40" font-size="7.8" stroke="#2a2a2a" stroke-width="0.08" text-anchor="end" fill="#2a2a2a">−1</text>
<line x1="42.60" y1="363.80" x2="45.60" y2="363.80" stroke="#1e1e1e" stroke-width="1"/>
<text x="39.00" y="366.60" font-size="7.8" stroke="#2a2a2a" stroke-width="0.08" text-anchor="end" fill="#2a2a2a">−2</text>
<text x="23.60" y="316.10" font-size="10.4" stroke="#2a2a2a" stroke-width="0.08" text-anchor="middle" textLength="43.20" lengthAdjust="spacingAndGlyphs" fill="#2a2a2a" transform="rotate(-90 23.60 316.10)">Dependency</text>
<line x1="45.60" y1="265.35" x2="492.40" y2="265.35" stroke="#2a2a2a" stroke-width="1.25" stroke-dasharray="4.1 2.45"/>
<line x1="55.50" y1="340.90" x2="55.50" y2="392.60" stroke="#eab15c" stroke-width="1.1"/>
<rect x="51.40" y="361.60" width="8.20" height="25.10" fill="#f2cd93"/>
<line x1="51.40" y1="367.80" x2="59.60" y2="367.80" stroke="#dc8f22" stroke-width="1.5"/>
<line x1="55.50" y1="400.80" x2="55.50" y2="403.80" stroke="#1e1e1e" stroke-width="1.1"/>
<text x="57.90" y="406.90" font-size="8.0" stroke="#222" stroke-width="0.08" text-anchor="end" textLength="17.70" lengthAdjust="spacingAndGlyphs" transform="rotate(-90 57.90 406.90)">MYC</text>
<line x1="71.92" y1="335.70" x2="71.92" y2="372.00" stroke="#eab15c" stroke-width="1.1"/>
<rect x="67.82" y="343.70" width="8.20" height="13.00" fill="#f2cd93"/>
<line x1="67.82" y1="348.30" x2="76.02" y2="348.30" stroke="#dc8f22" stroke-width="1.5"/>
<line x1="71.92" y1="400.80" x2="71.92" y2="403.80" stroke="#1e1e1e" stroke-width="1.1"/>
<text x="74.32" y="406.90" font-size="8.0" stroke="#222" stroke-width="0.08" text-anchor="end" textLength="26.20" lengthAdjust="spacingAndGlyphs" transform="rotate(-90 74.32 406.90)">TOP2A</text>
<line x1="88.34" y1="248.10" x2="88.34" y2="356.80" stroke="#eab15c" stroke-width="1.1"/>
<rect x="84.24" y="273.70" width="8.20" height="37.80" fill="#f2cd93"/>
<line x1="84.24" y1="301.90" x2="92.44" y2="301.90" stroke="#dc8f22" stroke-width="1.5"/>
<line x1="88.34" y1="400.80" x2="88.34" y2="403.80" stroke="#1e1e1e" stroke-width="1.1"/>
<text x="90.74" y="406.90" font-size="8.0" stroke="#222" stroke-width="0.08" text-anchor="end" textLength="19.20" lengthAdjust="spacingAndGlyphs" transform="rotate(-90 90.74 406.90)">TCF3</text>
<line x1="104.76" y1="281.90" x2="104.76" y2="310.80" stroke="#eab15c" stroke-width="1.1"/>
<rect x="100.66" y="290.00" width="8.20" height="13.50" fill="#f2cd93"/>
<line x1="100.66" y1="299.80" x2="108.86" y2="299.80" stroke="#dc8f22" stroke-width="1.5"/>
<line x1="104.76" y1="400.80" x2="104.76" y2="403.80" stroke="#1e1e1e" stroke-width="1.1"/>
<text x="107.16" y="406.90" font-size="8.0" stroke="#222" stroke-width="0.08" text-anchor="end" textLength="20.20" lengthAdjust="spacingAndGlyphs" transform="rotate(-90 107.16 406.90)">BRD8</text>
<line x1="121.18" y1="285.60" x2="121.18" y2="311.70" stroke="#eab15c" stroke-width="1.1"/>
<rect x="117.08" y="291.90" width="8.20" height="9.10" fill="#f2cd93"/>
<line x1="117.08" y1="298.30" x2="125.28" y2="298.30" stroke="#dc8f22" stroke-width="1.5"/>
<line x1="121.18" y1="400.80" x2="121.18" y2="403.80" stroke="#1e1e1e" stroke-width="1.1"/>
<text x="123.58" y="406.90" font-size="8.0" stroke="#222" stroke-width="0.08" text-anchor="end" textLength="29.50" lengthAdjust="spacingAndGlyphs" transform="rotate(-90 123.58 406.90)">HMGA1</text>
<line x1="137.60" y1="276.20" x2="137.60" y2="306.70" stroke="#eab15c" stroke-width="1.1"/>
<rect x="133.50" y="288.10" width="8.20" height="8.20" fill="#f2cd93"/>
<line x1="133.50" y1="291.90" x2="141.70" y2="291.90" stroke="#dc8f22" stroke-width="1.5"/>
<line x1="137.60" y1="400.80" x2="137.60" y2="403.80" stroke="#1e1e1e" stroke-width="1.1"/>
<text x="140.00" y="406.90" font-size="8.0" stroke="#222" stroke-width="0.08" text-anchor="end" textLength="25.50" lengthAdjust="spacingAndGlyphs" transform="rotate(-90 140.00 406.90)">PTTG1</text>
<line x1="154.02" y1="273.10" x2="154.02" y2="297.10" stroke="#eab15c" stroke-width="1.1"/>
<rect x="149.92" y="281.00" width="8.20" height="7.70" fill="#f2cd93"/>
<line x1="149.92" y1="284.80" x2="158.12" y2="284.80" stroke="#dc8f22" stroke-width="1.5"/>
<line x1="154.02" y1="400.80" x2="154.02" y2="403.80" stroke="#1e1e1e" stroke-width="1.1"/>
<text x="156.42" y="406.90" font-size="8.0" stroke="#222" stroke-width="0.08" text-anchor="end" textLength="25.50" lengthAdjust="spacingAndGlyphs" transform="rotate(-90 156.42 406.90)">PA2G4</text>
<line x1="170.44" y1="273.80" x2="170.44" y2="284.80" stroke="#86b8ea" stroke-width="1.1"/>
<rect x="166.34" y="277.00" width="8.20" height="3.60" fill="#bcd5f2"/>
<line x1="166.34" y1="278.90" x2="174.54" y2="278.90" stroke="#5a9be0" stroke-width="1.5"/>
<line x1="170.44" y1="400.80" x2="170.44" y2="403.80" stroke="#1e1e1e" stroke-width="1.1"/>
<text x="172.84" y="406.90" font-size="8.0" stroke="#222" stroke-width="0.08" text-anchor="end" textLength="20.90" lengthAdjust="spacingAndGlyphs" transform="rotate(-90 172.84 406.90)">FOSB</text>
<line x1="186.86" y1="259.00" x2="186.86" y2="302.80" stroke="#eab15c" stroke-width="1.1"/>
<rect x="182.76" y="265.80" width="8.20" height="27.50" fill="#f2cd93"/>
<line x1="182.76" y1="279.30" x2="190.96" y2="279.30" stroke="#dc8f22" stroke-width="1.5"/>
<line x1="186.86" y1="400.80" x2="186.86" y2="403.80" stroke="#1e1e1e" stroke-width="1.1"/>
<text x="189.26" y="406.90" font-size="8.0" stroke="#222" stroke-width="0.08" text-anchor="end" textLength="38.40" lengthAdjust="spacingAndGlyphs" transform="rotate(-90 189.26 406.90)">SMARCA4</text>
<line x1="203.28" y1="258.20" x2="203.28" y2="311.90" stroke="#eab15c" stroke-width="1.1"/>
<rect x="199.18" y="270.30" width="8.20" height="19.40" fill="#f2cd93"/>
<line x1="199.18" y1="279.60" x2="207.38" y2="279.60" stroke="#dc8f22" stroke-width="1.5"/>
<line x1="203.28" y1="400.80" x2="203.28" y2="403.80" stroke="#1e1e1e" stroke-width="1.1"/>
<text x="205.68" y="406.90" font-size="8.0" stroke="#222" stroke-width="0.08" text-anchor="end" textLength="27.30" lengthAdjust="spacingAndGlyphs" transform="rotate(-90 205.68 406.90)">TRIM28</text>
<line x1="219.70" y1="262.80" x2="219.70" y2="291.40" stroke="#86b8ea" stroke-width="1.1"/>
<rect x="215.60" y="271.10" width="8.20" height="12.70" fill="#bcd5f2"/>
<line x1="215.60" y1="276.80" x2="223.80" y2="276.80" stroke="#5a9be0" stroke-width="1.5"/>
<line x1="219.70" y1="400.80" x2="219.70" y2="403.80" stroke="#1e1e1e" stroke-width="1.1"/>
<text x="222.10" y="406.90" font-size="8.0" stroke="#222" stroke-width="0.08" text-anchor="end" textLength="15.80" lengthAdjust="spacingAndGlyphs" transform="rotate(-90 222.10 406.90)">JUN</text>
<line x1="236.12" y1="244.20" x2="236.12" y2="306.60" stroke="#eab15c" stroke-width="1.1"/>
<rect x="232.02" y="264.30" width="8.20" height="20.50" fill="#f2cd93"/>
<line x1="232.02" y1="276.00" x2="240.22" y2="276.00" stroke="#dc8f22" stroke-width="1.5"/>
<line x1="236.12" y1="400.80" x2="236.12" y2="403.80" stroke="#1e1e1e" stroke-width="1.1"/>
<text x="238.52" y="406.90" font-size="8.0" stroke="#222" stroke-width="0.08" text-anchor="end" textLength="29.20" lengthAdjust="spacingAndGlyphs" transform="rotate(-90 238.52 406.90)">ZNF592</text>
<line x1="252.54" y1="261.20" x2="252.54" y2="289.10" stroke="#86b8ea" stroke-width="1.1"/>
<rect x="248.44" y="270.70" width="8.20" height="7.80" fill="#bcd5f2"/>
<line x1="248.44" y1="275.10" x2="256.64" y2="275.10" stroke="#5a9be0" stroke-width="1.5"/>
<line x1="252.54" y1="400.80" x2="252.54" y2="403.80" stroke="#1e1e1e" stroke-width="1.1"/>
<text x="254.94" y="406.90" font-size="8.0" stroke="#222" stroke-width="0.08" text-anchor="end" textLength="19.20" lengthAdjust="spacingAndGlyphs" transform="rotate(-90 254.94 406.90)">ZEB2</text>
<line x1="268.96" y1="264.20" x2="268.96" y2="281.50" stroke="#86b8ea" stroke-width="1.1"/>
<rect x="264.86" y="272.50" width="8.20" height="5.20" fill="#bcd5f2"/>
<line x1="264.86" y1="274.80" x2="273.06" y2="274.80" stroke="#5a9be0" stroke-width="1.5"/>
<line x1="268.96" y1="400.80" x2="268.96" y2="403.80" stroke="#1e1e1e" stroke-width="1.1"/>
<text x="271.36" y="406.90" font-size="8.0" stroke="#222" stroke-width="0.08" text-anchor="end" textLength="27.80" lengthAdjust="spacingAndGlyphs" transform="rotate(-90 271.36 406.90)">FOXO1</text>
<line x1="285.38" y1="264.80" x2="285.38" y2="281.20" stroke="#86b8ea" stroke-width="1.1"/>
<rect x="281.28" y="268.70" width="8.20" height="6.70" fill="#bcd5f2"/>
<line x1="281.28" y1="273.50" x2="289.48" y2="273.50" stroke="#5a9be0" stroke-width="1.5"/>
<line x1="285.38" y1="400.80" x2="285.38" y2="403.80" stroke="#1e1e1e" stroke-width="1.1"/>
<text x="287.78" y="406.90" font-size="8.0" stroke="#222" stroke-width="0.08" text-anchor="end" textLength="36.90" lengthAdjust="spacingAndGlyphs" transform="rotate(-90 287.78 406.90)">ZDHHC18</text>
<line x1="301.80" y1="259.00" x2="301.80" y2="282.70" stroke="#86b8ea" stroke-width="1.1"/>
<rect x="297.70" y="269.20" width="8.20" height="6.60" fill="#bcd5f2"/>
<line x1="297.70" y1="273.10" x2="305.90" y2="273.10" stroke="#5a9be0" stroke-width="1.5"/>
<line x1="301.80" y1="400.80" x2="301.80" y2="403.80" stroke="#1e1e1e" stroke-width="1.1"/>
<text x="304.20" y="406.90" font-size="8.0" stroke="#222" stroke-width="0.08" text-anchor="end" textLength="26.50" lengthAdjust="spacingAndGlyphs" transform="rotate(-90 304.20 406.90)">CEBPD</text>
<line x1="318.22" y1="257.10" x2="318.22" y2="281.20" stroke="#eab15c" stroke-width="1.1"/>
<rect x="314.12" y="265.40" width="8.20" height="9.60" fill="#f2cd93"/>
<line x1="314.12" y1="270.00" x2="322.32" y2="270.00" stroke="#dc8f22" stroke-width="1.5"/>
<line x1="318.22" y1="400.80" x2="318.22" y2="403.80" stroke="#1e1e1e" stroke-width="1.1"/>
<text x="320.62" y="406.90" font-size="8.0" stroke="#222" stroke-width="0.08" text-anchor="end" textLength="23.30" lengthAdjust="spacingAndGlyphs" transform="rotate(-90 320.62 406.90)">SATB2</text>
<line x1="334.64" y1="260.60" x2="334.64" y2="280.80" stroke="#eab15c" stroke-width="1.1"/>
<rect x="330.54" y="266.70" width="8.20" height="5.40" fill="#f2cd93"/>
<line x1="330.54" y1="268.10" x2="338.74" y2="268.10" stroke="#dc8f22" stroke-width="1.5"/>
<line x1="334.64" y1="400.80" x2="334.64" y2="403.80" stroke="#1e1e1e" stroke-width="1.1"/>
<text x="337.04" y="406.90" font-size="8.0" stroke="#222" stroke-width="0.08" text-anchor="end" textLength="38.20" lengthAdjust="spacingAndGlyphs" transform="rotate(-90 337.04 406.90)">HNRNPAB</text>
<line x1="351.06" y1="246.50" x2="351.06" y2="288.50" stroke="#eab15c" stroke-width="1.1"/>
<rect x="346.96" y="263.50" width="8.20" height="12.50" fill="#f2cd93"/>
<line x1="346.96" y1="266.70" x2="355.16" y2="266.70" stroke="#dc8f22" stroke-width="1.5"/>
<line x1="351.06" y1="400.80" x2="351.06" y2="403.80" stroke="#1e1e1e" stroke-width="1.1"/>
<text x="353.46" y="406.90" font-size="8.0" stroke="#222" stroke-width="0.08" text-anchor="end" textLength="33.70" lengthAdjust="spacingAndGlyphs" transform="rotate(-90 353.46 406.90)">CDKN2A</text>
<line x1="367.48" y1="260.00" x2="367.48" y2="276.70" stroke="#eab15c" stroke-width="1.1"/>
<rect x="363.38" y="264.00" width="8.20" height="5.40" fill="#f2cd93"/>
<line x1="363.38" y1="266.70" x2="371.58" y2="266.70" stroke="#dc8f22" stroke-width="1.5"/>
<line x1="367.48" y1="400.80" x2="367.48" y2="403.80" stroke="#1e1e1e" stroke-width="1.1"/>
<text x="369.88" y="406.90" font-size="8.0" stroke="#222" stroke-width="0.08" text-anchor="end" textLength="23.90" lengthAdjust="spacingAndGlyphs" transform="rotate(-90 369.88 406.90)">ZBTB6</text>
<line x1="383.90" y1="256.80" x2="383.90" y2="277.50" stroke="#86b8ea" stroke-width="1.1"/>
<rect x="379.80" y="264.00" width="8.20" height="6.20" fill="#bcd5f2"/>
<line x1="379.80" y1="266.70" x2="388.00" y2="266.70" stroke="#5a9be0" stroke-width="1.5"/>
<line x1="383.90" y1="400.80" x2="383.90" y2="403.80" stroke="#1e1e1e" stroke-width="1.1"/>
<text x="386.30" y="406.90" font-size="8.0" stroke="#222" stroke-width="0.08" text-anchor="end" textLength="18.70" lengthAdjust="spacingAndGlyphs" transform="rotate(-90 386.30 406.90)">TFEB</text>
<line x1="400.32" y1="244.40" x2="400.32" y2="276.70" stroke="#86b8ea" stroke-width="1.1"/>
<rect x="396.22" y="256.80" width="8.20" height="8.00" fill="#bcd5f2"/>
<line x1="396.22" y1="262.20" x2="404.42" y2="262.20" stroke="#5a9be0" stroke-width="1.5"/>
<line x1="400.32" y1="400.80" x2="400.32" y2="403.80" stroke="#1e1e1e" stroke-width="1.1"/>
<text x="402.72" y="406.90" font-size="8.0" stroke="#222" stroke-width="0.08" text-anchor="end" textLength="17.90" lengthAdjust="spacingAndGlyphs" transform="rotate(-90 402.72 406.90)">KLF6</text>
<line x1="416.74" y1="248.70" x2="416.74" y2="270.20" stroke="#86b8ea" stroke-width="1.1"/>
<rect x="412.64" y="258.70" width="8.20" height="6.70" fill="#bcd5f2"/>
<line x1="412.64" y1="262.20" x2="420.84" y2="262.20" stroke="#5a9be0" stroke-width="1.5"/>
<line x1="416.74" y1="400.80" x2="416.74" y2="403.80" stroke="#1e1e1e" stroke-width="1.1"/>
<text x="419.14" y="406.90" font-size="8.0" stroke="#222" stroke-width="0.08" text-anchor="end" textLength="16.70" lengthAdjust="spacingAndGlyphs" transform="rotate(-90 419.14 406.90)">IRF8</text>
<line x1="433.16" y1="241.70" x2="433.16" y2="278.30" stroke="#86b8ea" stroke-width="1.1"/>
<rect x="429.06" y="256.00" width="8.20" height="10.70" fill="#bcd5f2"/>
<line x1="429.06" y1="260.50" x2="437.26" y2="260.50" stroke="#5a9be0" stroke-width="1.5"/>
<line x1="433.16" y1="400.80" x2="433.16" y2="403.80" stroke="#1e1e1e" stroke-width="1.1"/>
<text x="435.56" y="406.90" font-size="8.0" stroke="#222" stroke-width="0.08" text-anchor="end" textLength="18.70" lengthAdjust="spacingAndGlyphs" transform="rotate(-90 435.56 406.90)">ETV6</text>
<line x1="449.58" y1="249.80" x2="449.58" y2="268.60" stroke="#86b8ea" stroke-width="1.1"/>
<rect x="445.48" y="255.20" width="8.20" height="5.30" fill="#bcd5f2"/>
<line x1="445.48" y1="257.30" x2="453.68" y2="257.30" stroke="#5a9be0" stroke-width="1.5"/>
<line x1="449.58" y1="400.80" x2="449.58" y2="403.80" stroke="#1e1e1e" stroke-width="1.1"/>
<text x="451.98" y="406.90" font-size="8.0" stroke="#222" stroke-width="0.08" text-anchor="end" textLength="37.20" lengthAdjust="spacingAndGlyphs" transform="rotate(-90 451.98 406.90)">ZCCHC24</text>
<line x1="466.00" y1="246.50" x2="466.00" y2="269.40" stroke="#86b8ea" stroke-width="1.1"/>
<rect x="461.90" y="253.30" width="8.20" height="9.40" fill="#bcd5f2"/>
<line x1="461.90" y1="255.20" x2="470.10" y2="255.20" stroke="#5a9be0" stroke-width="1.5"/>
<line x1="466.00" y1="400.80" x2="466.00" y2="403.80" stroke="#1e1e1e" stroke-width="1.1"/>
<text x="468.40" y="406.90" font-size="8.0" stroke="#222" stroke-width="0.08" text-anchor="end" textLength="30.00" lengthAdjust="spacingAndGlyphs" transform="rotate(-90 468.40 406.90)">NFATC1</text>
<line x1="482.42" y1="239.00" x2="482.42" y2="268.60" stroke="#eab15c" stroke-width="1.1"/>
<rect x="478.32" y="250.60" width="8.20" height="7.20" fill="#f2cd93"/>
<line x1="478.32" y1="253.80" x2="486.52" y2="253.80" stroke="#dc8f22" stroke-width="1.5"/>
<line x1="482.42" y1="400.80" x2="482.42" y2="403.80" stroke="#1e1e1e" stroke-width="1.1"/>
<text x="484.82" y="406.90" font-size="8.0" stroke="#222" stroke-width="0.08" text-anchor="end" textLength="18.70" lengthAdjust="spacingAndGlyphs" transform="rotate(-90 484.82 406.90)">HLTF</text>
<text x="268.90" y="458.10" font-size="10.5" stroke="#2a2a2a" stroke-width="0.08" text-anchor="middle" textLength="17.60" lengthAdjust="spacingAndGlyphs" fill="#2a2a2a">Gene</text>
<text x="433.90" y="363.20" font-size="7.4" stroke="#222" stroke-width="0.08" textLength="36.60" lengthAdjust="spacingAndGlyphs">Regulation</text>
<line x1="438.10" y1="368.50" x2="438.10" y2="376.90" stroke="#eab15c" stroke-width="1.1"/>
<rect x="434.20" y="370.10" width="7.80" height="5.20" fill="#f2cd93"/>
<line x1="434.20" y1="372.70" x2="442.00" y2="372.70" stroke="#dc8f22" stroke-width="1.3"/>
<text x="446.10" y="375.40" font-size="7.4" stroke="#222" stroke-width="0.08" textLength="33.60" lengthAdjust="spacingAndGlyphs">Activation</text>
<line x1="438.10" y1="380.20" x2="438.10" y2="388.60" stroke="#86b8ea" stroke-width="1.1"/>
<rect x="434.20" y="381.80" width="7.80" height="5.20" fill="#bcd5f2"/>
<line x1="434.20" y1="384.40" x2="442.00" y2="384.40" stroke="#5a9be0" stroke-width="1.3"/>
<text x="446.10" y="387.10" font-size="7.4" stroke="#222" stroke-width="0.08" textLength="36.60" lengthAdjust="spacingAndGlyphs">Repression</text>
<text x="7.30" y="486.20" font-size="11.5" font-weight="bold" fill="#111">C</text>
<text x="44.90" y="495.90" font-size="7.4" stroke="#222" stroke-width="0.08" textLength="29.60" lengthAdjust="spacingAndGlyphs">p−value</text>
<text x="440.00" y="496.40" font-size="7.4" stroke="#222" stroke-width="0.08" text-anchor="middle">Set</text>
<text x="478.60" y="496.40" font-size="7.4" stroke="#222" stroke-width="0.08" text-anchor="middle">Act</text>
<rect x="360" y="501.90" width="58" height="16.60" fill="#c92f28" fill-opacity="0.1"/>
<rect x="143.90" y="501.90" width="1.0" height="16.60" fill="#c92f28" fill-opacity="0.15000000000000002"/>
<rect x="156.80" y="501.90" width="1.0" height="16.60" fill="#c92f28" fill-opacity="0.15000000000000002"/>
<rect x="185.50" y="501.90" width="1.0" height="16.60" fill="#c92f28" fill-opacity="0.15000000000000002"/>
<rect x="197.90" y="501.90" width="1.0" height="16.60" fill="#c92f28" fill-opacity="0.15000000000000002"/>
<rect x="227.00" y="501.90" width="1.0" height="16.60" fill="#c92f28" fill-opacity="0.15000000000000002"/>
<rect x="267.20" y="501.90" width="1.6" height="16.60" fill="#c92f28" fill-opacity="0.5"/>
<rect x="286.90" y="501.90" width="1.0" height="16.60" fill="#c92f28" fill-opacity="0.15000000000000002"/>
<rect x="302.70" y="501.90" width="1.2" height="16.60" fill="#c92f28" fill-opacity="0.5"/>
<rect x="307.10" y="501.90" width="1.0" height="16.60" fill="#c92f28" fill-opacity="0.88"/>
<rect x="315.20" y="501.90" width="0.9" height="16.60" fill="#c92f28" fill-opacity="0.88"/>
<rect x="319.70" y="501.90" width="1.3" height="16.60" fill="#c92f28" fill-opacity="0.88"/>
<rect x="323.30" y="501.90" width="0.9" height="16.60" fill="#c92f28" fill-opacity="0.5"/>
<rect x="324.50" y="501.90" width="2.5" height="16.60" fill="#c92f28" fill-opacity="0.34"/>
<rect x="335.00" y="501.90" width="1.3" height="16.60" fill="#c92f28" fill-opacity="0.5"/>
<rect x="337.40" y="501.90" width="0.9" height="16.60" fill="#c92f28" fill-opacity="0.5"/>
<rect x="339.00" y="501.90" width="0.9" height="16.60" fill="#c92f28" fill-opacity="0.15000000000000002"/>
<rect x="341.10" y="501.90" width="1.2" height="16.60" fill="#c92f28" fill-opacity="0.5"/>
<rect x="343.90" y="501.90" width="0.9" height="16.60" fill="#c92f28" fill-opacity="0.15000000000000002"/>
<rect x="346.60" y="501.90" width="1.3" height="16.60" fill="#c92f28" fill-opacity="0.88"/>
<rect x="352.00" y="501.90" width="1.1" height="16.60" fill="#c92f28" fill-opacity="0.5"/>
<rect x="353.10" y="501.90" width="2.1" height="16.60" fill="#c92f28" fill-opacity="0.15000000000000002"/>
<rect x="357.60" y="501.90" width="1.3" height="16.60" fill="#c92f28" fill-opacity="0.5"/>
<rect x="362.50" y="501.90" width="1.6" height="16.60" fill="#c92f28" fill-opacity="0.88"/>
<rect x="364.10" y="501.90" width="2.4" height="16.60" fill="#c92f28" fill-opacity="0.5"/>
<rect x="367.30" y="501.90" width="2.4" height="16.60" fill="#c92f28" fill-opacity="0.5"/>
<rect x="373.00" y="501.90" width="1.6" height="16.60" fill="#c92f28" fill-opacity="0.5"/>
<rect x="376.20" y="501.90" width="2.1" height="16.60" fill="#c92f28" fill-opacity="0.5"/>
<rect x="380.20" y="501.90" width="1.6" height="16.60" fill="#c92f28" fill-opacity="0.5"/>
<rect x="383.10" y="501.90" width="1.2" height="16.60" fill="#c92f28" fill-opacity="0.15000000000000002"/>
<rect x="386.40" y="501.90" width="1.1" height="16.60" fill="#c92f28" fill-opacity="0.5"/>
<rect x="388.30" y="501.90" width="1.6" height="16.60" fill="#c92f28" fill-opacity="0.5"/>
<rect x="392.40" y="501.90" width="2.4" height="16.60" fill="#c92f28" fill-opacity="0.88"/>
<rect x="394.80" y="501.90" width="2.4" height="16.60" fill="#c92f28" fill-opacity="0.5"/>
<rect x="398.00" y="501.90" width="2.4" height="16.60" fill="#c92f28" fill-opacity="0.5"/>
<rect x="401.20" y="501.90" width="3.3" height="16.60" fill="#c92f28" fill-opacity="0.88"/>
<rect x="404.50" y="501.90" width="2.4" height="16.60" fill="#c92f28" fill-opacity="0.5"/>
<rect x="407.70" y="501.90" width="3.2" height="16.60" fill="#c92f28" fill-opacity="0.88"/>
<rect x="410.90" y="501.90" width="3.3" height="16.60" fill="#c92f28" fill-opacity="0.68"/>
<rect x="415.00" y="501.90" width="2.7" height="16.60" fill="#c92f28" fill-opacity="0.88"/>
<rect x="84.30" y="518.50" width="1.9" height="16.10" fill="#2750b0" fill-opacity="0.88"/>
<rect x="88.20" y="518.50" width="2.1" height="16.10" fill="#2750b0" fill-opacity="0.2"/>
<rect x="128.20" y="518.50" width="1.6" height="16.10" fill="#2750b0" fill-opacity="0.2"/>
<rect x="131.80" y="518.50" width="1.3" height="16.10" fill="#2750b0" fill-opacity="0.2"/>
<rect x="134.00" y="518.50" width="1.5" height="16.10" fill="#2750b0" fill-opacity="0.5"/>
<rect x="138.30" y="518.50" width="1.6" height="16.10" fill="#2750b0" fill-opacity="0.2"/>
<rect x="147.30" y="518.50" width="2.3" height="16.10" fill="#2750b0" fill-opacity="0.2"/>
<rect x="152.10" y="518.50" width="1.7" height="16.10" fill="#2750b0" fill-opacity="0.2"/>
<rect x="154.90" y="518.50" width="1.1" height="16.10" fill="#2750b0" fill-opacity="0.5"/>
<rect x="163.80" y="518.50" width="2.4" height="16.10" fill="#2750b0" fill-opacity="0.2"/>
<rect x="165.00" y="518.50" width="2.4" height="16.10" fill="#2750b0" fill-opacity="0.5"/>
<rect x="187.60" y="518.50" width="1.0" height="16.10" fill="#2750b0" fill-opacity="0.34"/>
<rect x="192.80" y="518.50" width="1.3" height="16.10" fill="#2750b0" fill-opacity="0.5"/>
<rect x="194.60" y="518.50" width="1.9" height="16.10" fill="#2750b0" fill-opacity="0.2"/>
<rect x="200.50" y="518.50" width="1.3" height="16.10" fill="#2750b0" fill-opacity="0.34"/>
<rect x="204.60" y="518.50" width="0.9" height="16.10" fill="#2750b0" fill-opacity="0.5"/>
<rect x="216.40" y="518.50" width="1.1" height="16.10" fill="#2750b0" fill-opacity="0.34"/>
<rect x="217.50" y="518.50" width="1.5" height="16.10" fill="#2750b0" fill-opacity="0.2"/>
<rect x="222.80" y="518.50" width="1.2" height="16.10" fill="#2750b0" fill-opacity="0.2"/>
<rect x="242.50" y="518.50" width="1.3" height="16.10" fill="#2750b0" fill-opacity="0.5"/>
<rect x="257.50" y="518.50" width="1.0" height="16.10" fill="#2750b0" fill-opacity="0.5"/>
<rect x="265.90" y="518.50" width="1.0" height="16.10" fill="#2750b0" fill-opacity="0.5"/>
<rect x="272.00" y="518.50" width="1.7" height="16.10" fill="#2750b0" fill-opacity="0.2"/>
<rect x="274.80" y="518.50" width="1.0" height="16.10" fill="#2750b0" fill-opacity="0.5"/>
<rect x="279.30" y="518.50" width="0.9" height="16.10" fill="#2750b0" fill-opacity="0.5"/>
<rect x="300.30" y="518.50" width="3.6" height="16.10" fill="#2750b0" fill-opacity="0.2"/>
<rect x="373.30" y="518.50" width="1.0" height="16.10" fill="#2750b0" fill-opacity="0.2"/>
<rect x="391.90" y="518.50" width="1.0" height="16.10" fill="#2750b0" fill-opacity="0.2"/>
<rect x="410.80" y="518.50" width="1.0" height="16.10" fill="#2750b0" fill-opacity="0.2"/>
<text x="44.80" y="521.50" font-size="8.3" stroke="#222" stroke-width="0.03" textLength="35.00" lengthAdjust="spacingAndGlyphs">4.72e−05</text>
<text x="439.70" y="521.40" font-size="8.3" stroke="#222" stroke-width="0.03" text-anchor="middle" textLength="17.30" lengthAdjust="spacingAndGlyphs">MYC</text>
<rect x="470.20" y="501.20" width="16.80" height="34.60" fill="#c52d22"/>
<rect x="362" y="536.50" width="56" height="15.55" fill="#c92f28" fill-opacity="0.1"/>
<rect x="88.20" y="536.50" width="1.0" height="15.55" fill="#c92f28" fill-opacity="0.15000000000000002"/>
<rect x="89.80" y="536.50" width="1.0" height="15.55" fill="#c92f28" fill-opacity="0.15000000000000002"/>
<rect x="111.90" y="536.50" width="1.0" height="15.55" fill="#c92f28" fill-opacity="0.15000000000000002"/>
<rect x="139.00" y="536.50" width="1.0" height="15.55" fill="#c92f28" fill-opacity="0.15000000000000002"/>
<rect x="151.20" y="536.50" width="1.0" height="15.55" fill="#c92f28" fill-opacity="0.5"/>
<rect x="172.90" y="536.50" width="1.0" height="15.55" fill="#c92f28" fill-opacity="0.15000000000000002"/>
<rect x="198.70" y="536.50" width="1.0" height="15.55" fill="#c92f28" fill-opacity="0.15000000000000002"/>
<rect x="201.70" y="536.50" width="1.0" height="15.55" fill="#c92f28" fill-opacity="0.15000000000000002"/>
<rect x="227.80" y="536.50" width="1.0" height="15.55" fill="#c92f28" fill-opacity="0.88"/>
<rect x="261.80" y="536.50" width="1.0" height="15.55" fill="#c92f28" fill-opacity="0.15000000000000002"/>
<rect x="267.20" y="536.50" width="1.1" height="15.55" fill="#c92f28" fill-opacity="0.5"/>
<rect x="272.70" y="536.50" width="1.0" height="15.55" fill="#c92f28" fill-opacity="0.15000000000000002"/>
<rect x="311.60" y="536.50" width="0.9" height="15.55" fill="#c92f28" fill-opacity="0.15000000000000002"/>
<rect x="314.50" y="536.50" width="1.2" height="15.55" fill="#c92f28" fill-opacity="0.5"/>
<rect x="321.30" y="536.50" width="1.3" height="15.55" fill="#c92f28" fill-opacity="0.5"/>
<rect x="325.40" y="536.50" width="0.9" height="15.55" fill="#c92f28" fill-opacity="0.15000000000000002"/>
<rect x="339.80" y="536.50" width="0.9" height="15.55" fill="#c92f28" fill-opacity="0.5"/>
<rect x="351.20" y="536.50" width="1.6" height="15.55" fill="#c92f28" fill-opacity="0.34"/>
<rect x="354.10" y="536.50" width="1.1" height="15.55" fill="#c92f28" fill-opacity="0.15000000000000002"/>
<rect x="361.70" y="536.50" width="1.1" height="15.55" fill="#c92f28" fill-opacity="0.88"/>
<rect x="364.10" y="536.50" width="1.6" height="15.55" fill="#c92f28" fill-opacity="0.88"/>
<rect x="366.00" y="536.50" width="1.3" height="15.55" fill="#c92f28" fill-opacity="0.15000000000000002"/>
<rect x="368.90" y="536.50" width="2.4" height="15.55" fill="#c92f28" fill-opacity="0.5"/>
<rect x="371.80" y="536.50" width="1.2" height="15.55" fill="#c92f28" fill-opacity="0.5"/>
<rect x="374.60" y="536.50" width="1.6" height="15.55" fill="#c92f28" fill-opacity="0.88"/>
<rect x="376.70" y="536.50" width="2.7" height="15.55" fill="#c92f28" fill-opacity="0.5"/>
<rect x="382.20" y="536.50" width="1.3" height="15.55" fill="#c92f28" fill-opacity="0.5"/>
<rect x="386.70" y="536.50" width="1.3" height="15.55" fill="#c92f28" fill-opacity="0.15000000000000002"/>
<rect x="389.60" y="536.50" width="1.1" height="15.55" fill="#c92f28" fill-opacity="0.5"/>
<rect x="390.70" y="536.50" width="5.7" height="15.55" fill="#c92f28" fill-opacity="0.5"/>
<rect x="397.20" y="536.50" width="3.2" height="15.55" fill="#c92f28" fill-opacity="0.68"/>
<rect x="401.20" y="536.50" width="3.3" height="15.55" fill="#c92f28" fill-opacity="0.68"/>
<rect x="406.10" y="536.50" width="2.4" height="15.55" fill="#c92f28" fill-opacity="0.68"/>
<rect x="409.30" y="536.50" width="1.6" height="15.55" fill="#c92f28" fill-opacity="0.88"/>
<rect x="411.70" y="536.50" width="2.5" height="15.55" fill="#c92f28" fill-opacity="0.5"/>
<rect x="415.00" y="536.50" width="2.4" height="15.55" fill="#c92f28" fill-opacity="0.88"/>
<rect x="84.60" y="552.05" width="3.2" height="15.05" fill="#2750b0" fill-opacity="0.88"/>
<rect x="87.80" y="552.05" width="7.3" height="15.05" fill="#2750b0" fill-opacity="0.5"/>
<rect x="96.70" y="552.05" width="1.0" height="15.05" fill="#2750b0" fill-opacity="0.5"/>
<rect x="99.20" y="552.05" width="2.4" height="15.05" fill="#2750b0" fill-opacity="0.5"/>
<rect x="103.70" y="552.05" width="1.1" height="15.05" fill="#2750b0" fill-opacity="0.5"/>
<rect x="105.60" y="552.05" width="5.7" height="15.05" fill="#2750b0" fill-opacity="0.5"/>
<rect x="112.40" y="552.05" width="1.0" height="15.05" fill="#2750b0" fill-opacity="0.5"/>
<rect x="116.10" y="552.05" width="1.1" height="15.05" fill="#2750b0" fill-opacity="0.2"/>
<rect x="125.00" y="552.05" width="1.6" height="15.05" fill="#2750b0" fill-opacity="0.2"/>
<rect x="129.00" y="552.05" width="0.9" height="15.05" fill="#2750b0" fill-opacity="0.5"/>
<rect x="131.50" y="552.05" width="1.5" height="15.05" fill="#2750b0" fill-opacity="0.2"/>
<rect x="134.70" y="552.05" width="1.6" height="15.05" fill="#2750b0" fill-opacity="0.5"/>
<rect x="137.10" y="552.05" width="0.9" height="15.05" fill="#2750b0" fill-opacity="0.5"/>
<rect x="146.00" y="552.05" width="1.3" height="15.05" fill="#2750b0" fill-opacity="0.2"/>
<rect x="148.10" y="552.05" width="0.9" height="15.05" fill="#2750b0" fill-opacity="0.5"/>
<rect x="150.00" y="552.05" width="0.9" height="15.05" fill="#2750b0" fill-opacity="0.5"/>
<rect x="158.10" y="552.05" width="0.9" height="15.05" fill="#2750b0" fill-opacity="0.2"/>
<rect x="165.40" y="552.05" width="2.0" height="15.05" fill="#2750b0" fill-opacity="0.2"/>
<rect x="168.10" y="552.05" width="1.0" height="15.05" fill="#2750b0" fill-opacity="0.2"/>
<rect x="171.10" y="552.05" width="0.9" height="15.05" fill="#2750b0" fill-opacity="0.5"/>
<rect x="177.70" y="552.05" width="1.0" height="15.05" fill="#2750b0" fill-opacity="0.2"/>
<rect x="187.90" y="552.05" width="1.0" height="15.05" fill="#2750b0" fill-opacity="0.5"/>
<rect x="190.70" y="552.05" width="1.0" height="15.05" fill="#2750b0" fill-opacity="0.2"/>
<rect x="200.80" y="552.05" width="1.0" height="15.05" fill="#2750b0" fill-opacity="0.5"/>
<rect x="212.70" y="552.05" width="0.9" height="15.05" fill="#2750b0" fill-opacity="0.88"/>
<rect x="224.60" y="552.05" width="1.0" height="15.05" fill="#2750b0" fill-opacity="0.5"/>
<rect x="238.50" y="552.05" width="0.9" height="15.05" fill="#2750b0" fill-opacity="0.2"/>
<rect x="246.60" y="552.05" width="1.6" height="15.05" fill="#2750b0" fill-opacity="0.5"/>
<rect x="250.50" y="552.05" width="1.0" height="15.05" fill="#2750b0" fill-opacity="0.5"/>
<rect x="291.70" y="552.05" width="1.0" height="15.05" fill="#2750b0" fill-opacity="0.5"/>
<rect x="316.00" y="552.05" width="1.0" height="15.05" fill="#2750b0" fill-opacity="0.2"/>
<rect x="320.50" y="552.05" width="1.1" height="15.05" fill="#2750b0" fill-opacity="0.2"/>
<rect x="350.30" y="552.05" width="1.0" height="15.05" fill="#2750b0" fill-opacity="0.2"/>
<rect x="373.30" y="552.05" width="1.0" height="15.05" fill="#2750b0" fill-opacity="0.2"/>
<text x="44.80" y="555.05" font-size="8.3" stroke="#222" stroke-width="0.03" textLength="34.50" lengthAdjust="spacingAndGlyphs">0.000106</text>
<text x="439.70" y="554.95" font-size="8.3" stroke="#222" stroke-width="0.03" text-anchor="middle" textLength="33.70" lengthAdjust="spacingAndGlyphs">CDKN2A</text>
<rect x="470.20" y="535.80" width="16.80" height="32.50" fill="#c8382f"/>
<rect x="372" y="569.00" width="46" height="15.35" fill="#c92f28" fill-opacity="0.1"/>
<rect x="128.10" y="569.00" width="1.0" height="15.35" fill="#c92f28" fill-opacity="0.5"/>
<rect x="138.70" y="569.00" width="1.2" height="15.35" fill="#c92f28" fill-opacity="0.88"/>
<rect x="191.20" y="569.00" width="1.0" height="15.35" fill="#c92f28" fill-opacity="0.15000000000000002"/>
<rect x="226.70" y="569.00" width="1.0" height="15.35" fill="#c92f28" fill-opacity="0.88"/>
<rect x="249.70" y="569.00" width="1.0" height="15.35" fill="#c92f28" fill-opacity="0.15000000000000002"/>
<rect x="252.20" y="569.00" width="1.0" height="15.35" fill="#c92f28" fill-opacity="0.15000000000000002"/>
<rect x="263.20" y="569.00" width="0.9" height="15.35" fill="#c92f28" fill-opacity="0.5"/>
<rect x="266.10" y="569.00" width="1.1" height="15.35" fill="#c92f28" fill-opacity="0.88"/>
<rect x="268.30" y="569.00" width="1.3" height="15.35" fill="#c92f28" fill-opacity="0.88"/>
<rect x="275.80" y="569.00" width="1.1" height="15.35" fill="#c92f28" fill-opacity="0.15000000000000002"/>
<rect x="277.50" y="569.00" width="1.0" height="15.35" fill="#c92f28" fill-opacity="0.15000000000000002"/>
<rect x="287.40" y="569.00" width="3.2" height="15.35" fill="#c92f28" fill-opacity="0.68"/>
<rect x="303.20" y="569.00" width="3.6" height="15.35" fill="#c92f28" fill-opacity="0.34"/>
<rect x="308.40" y="569.00" width="1.6" height="15.35" fill="#c92f28" fill-opacity="0.15000000000000002"/>
<rect x="310.80" y="569.00" width="1.0" height="15.35" fill="#c92f28" fill-opacity="0.15000000000000002"/>
<rect x="317.60" y="569.00" width="1.0" height="15.35" fill="#c92f28" fill-opacity="0.15000000000000002"/>
<rect x="325.40" y="569.00" width="1.6" height="15.35" fill="#c92f28" fill-opacity="0.5"/>
<rect x="327.80" y="569.00" width="3.2" height="15.35" fill="#c92f28" fill-opacity="0.34"/>
<rect x="335.00" y="569.00" width="1.9" height="15.35" fill="#c92f28" fill-opacity="0.15000000000000002"/>
<rect x="337.90" y="569.00" width="0.9" height="15.35" fill="#c92f28" fill-opacity="0.15000000000000002"/>
<rect x="339.50" y="569.00" width="1.2" height="15.35" fill="#c92f28" fill-opacity="0.15000000000000002"/>
<rect x="345.80" y="569.00" width="1.0" height="15.35" fill="#c92f28" fill-opacity="0.15000000000000002"/>
<rect x="350.70" y="569.00" width="1.0" height="15.35" fill="#c92f28" fill-opacity="0.15000000000000002"/>
<rect x="353.10" y="569.00" width="1.3" height="15.35" fill="#c92f28" fill-opacity="0.68"/>
<rect x="357.60" y="569.00" width="1.6" height="15.35" fill="#c92f28" fill-opacity="0.15000000000000002"/>
<rect x="362.80" y="569.00" width="1.3" height="15.35" fill="#c92f28" fill-opacity="0.5"/>
<rect x="364.10" y="569.00" width="1.6" height="15.35" fill="#c92f28" fill-opacity="0.15000000000000002"/>
<rect x="367.30" y="569.00" width="1.6" height="15.35" fill="#c92f28" fill-opacity="0.5"/>
<rect x="369.70" y="569.00" width="1.6" height="15.35" fill="#c92f28" fill-opacity="0.5"/>
<rect x="372.50" y="569.00" width="1.3" height="15.35" fill="#c92f28" fill-opacity="0.88"/>
<rect x="376.70" y="569.00" width="2.7" height="15.35" fill="#c92f28" fill-opacity="0.88"/>
<rect x="380.20" y="569.00" width="1.6" height="15.35" fill="#c92f28" fill-opacity="0.5"/>
<rect x="382.70" y="569.00" width="2.4" height="15.35" fill="#c92f28" fill-opacity="0.5"/>
<rect x="385.90" y="569.00" width="1.1" height="15.35" fill="#c92f28" fill-opacity="0.88"/>
<rect x="388.00" y="569.00" width="2.7" height="15.35" fill="#c92f28" fill-opacity="0.5"/>
<rect x="392.40" y="569.00" width="2.1" height="15.35" fill="#c92f28" fill-opacity="0.5"/>
<rect x="394.80" y="569.00" width="1.6" height="15.35" fill="#c92f28" fill-opacity="0.5"/>
<rect x="397.70" y="569.00" width="1.1" height="15.35" fill="#c92f28" fill-opacity="0.88"/>
<rect x="399.60" y="569.00" width="2.0" height="15.35" fill="#c92f28" fill-opacity="0.5"/>
<rect x="402.50" y="569.00" width="2.0" height="15.35" fill="#c92f28" fill-opacity="0.88"/>
<rect x="406.10" y="569.00" width="2.4" height="15.35" fill="#c92f28" fill-opacity="0.5"/>
<rect x="409.30" y="569.00" width="1.6" height="15.35" fill="#c92f28" fill-opacity="0.88"/>
<rect x="411.70" y="569.00" width="2.5" height="15.35" fill="#c92f28" fill-opacity="0.5"/>
<rect x="415.00" y="569.00" width="3.0" height="15.35" fill="#c92f28" fill-opacity="0.88"/>
<rect x="84.90" y="584.35" width="3.8" height="14.85" fill="#2750b0" fill-opacity="0.5"/>
<rect x="91.90" y="584.35" width="2.4" height="14.85" fill="#2750b0" fill-opacity="0.68"/>
<rect x="94.30" y="584.35" width="6.5" height="14.85" fill="#2750b0" fill-opacity="0.5"/>
<rect x="102.40" y="584.35" width="1.3" height="14.85" fill="#2750b0" fill-opacity="0.2"/>
<rect x="106.70" y="584.35" width="1.0" height="14.85" fill="#2750b0" fill-opacity="0.2"/>
<rect x="121.30" y="584.35" width="1.0" height="14.85" fill="#2750b0" fill-opacity="0.2"/>
<rect x="125.80" y="584.35" width="1.0" height="14.85" fill="#2750b0" fill-opacity="0.2"/>
<rect x="130.70" y="584.35" width="2.1" height="14.85" fill="#2750b0" fill-opacity="0.68"/>
<rect x="137.40" y="584.35" width="1.0" height="14.85" fill="#2750b0" fill-opacity="0.2"/>
<rect x="145.50" y="584.35" width="1.0" height="14.85" fill="#2750b0" fill-opacity="0.5"/>
<rect x="151.70" y="584.35" width="5.6" height="14.85" fill="#2750b0" fill-opacity="0.34"/>
<rect x="173.40" y="584.35" width="1.0" height="14.85" fill="#2750b0" fill-opacity="0.2"/>
<rect x="185.20" y="584.35" width="1.1" height="14.85" fill="#2750b0" fill-opacity="0.88"/>
<rect x="204.60" y="584.35" width="1.6" height="14.85" fill="#2750b0" fill-opacity="0.88"/>
<rect x="212.70" y="584.35" width="0.9" height="14.85" fill="#2750b0" fill-opacity="0.5"/>
<rect x="217.00" y="584.35" width="1.0" height="14.85" fill="#2750b0" fill-opacity="0.2"/>
<rect x="225.60" y="584.35" width="1.0" height="14.85" fill="#2750b0" fill-opacity="0.2"/>
<rect x="238.00" y="584.35" width="1.0" height="14.85" fill="#2750b0" fill-opacity="0.2"/>
<rect x="255.10" y="584.35" width="0.9" height="14.85" fill="#2750b0" fill-opacity="0.88"/>
<rect x="258.00" y="584.35" width="1.6" height="14.85" fill="#2750b0" fill-opacity="0.88"/>
<rect x="266.10" y="584.35" width="1.1" height="14.85" fill="#2750b0" fill-opacity="0.2"/>
<rect x="269.90" y="584.35" width="2.9" height="14.85" fill="#2750b0" fill-opacity="0.2"/>
<rect x="336.40" y="584.35" width="1.0" height="14.85" fill="#2750b0" fill-opacity="0.5"/>
<rect x="360.00" y="584.35" width="1.0" height="14.85" fill="#2750b0" fill-opacity="0.2"/>
<rect x="402.00" y="584.35" width="1.0" height="14.85" fill="#2750b0" fill-opacity="0.2"/>
<rect x="410.80" y="584.35" width="1.0" height="14.85" fill="#2750b0" fill-opacity="0.2"/>
<text x="44.80" y="587.35" font-size="8.3" stroke="#222" stroke-width="0.03" textLength="33.70" lengthAdjust="spacingAndGlyphs">0.000311</text>
<text x="439.70" y="587.25" font-size="8.3" stroke="#222" stroke-width="0.03" text-anchor="middle" textLength="28.70" lengthAdjust="spacingAndGlyphs">HMGA1</text>
<rect x="470.20" y="568.30" width="16.80" height="32.10" fill="#cc4d47"/>
<rect x="380" y="601.10" width="38" height="16.10" fill="#c92f28" fill-opacity="0.1"/>
<rect x="116.10" y="601.10" width="1.0" height="16.10" fill="#c92f28" fill-opacity="0.15000000000000002"/>
<rect x="136.10" y="601.10" width="1.0" height="16.10" fill="#c92f28" fill-opacity="0.15000000000000002"/>
<rect x="158.40" y="601.10" width="1.0" height="16.10" fill="#c92f28" fill-opacity="0.15000000000000002"/>
<rect x="168.50" y="601.10" width="1.0" height="16.10" fill="#c92f28" fill-opacity="0.15000000000000002"/>
<rect x="178.70" y="601.10" width="1.0" height="16.10" fill="#c92f28" fill-opacity="0.15000000000000002"/>
<rect x="194.40" y="601.10" width="0.9" height="16.10" fill="#c92f28" fill-opacity="0.88"/>
<rect x="203.30" y="601.10" width="1.0" height="16.10" fill="#c92f28" fill-opacity="0.15000000000000002"/>
<rect x="211.70" y="601.10" width="1.0" height="16.10" fill="#c92f28" fill-opacity="0.15000000000000002"/>
<rect x="221.40" y="601.10" width="1.0" height="16.10" fill="#c92f28" fill-opacity="0.15000000000000002"/>
<rect x="236.90" y="601.10" width="1.0" height="16.10" fill="#c92f28" fill-opacity="0.15000000000000002"/>
<rect x="244.50" y="601.10" width="0.9" height="16.10" fill="#c92f28" fill-opacity="0.88"/>
<rect x="247.70" y="601.10" width="1.0" height="16.10" fill="#c92f28" fill-opacity="0.15000000000000002"/>
<rect x="255.40" y="601.10" width="1.0" height="16.10" fill="#c92f28" fill-opacity="0.5"/>
<rect x="274.50" y="601.10" width="3.2" height="16.10" fill="#c92f28" fill-opacity="0.34"/>
<rect x="280.40" y="601.10" width="1.0" height="16.10" fill="#c92f28" fill-opacity="0.15000000000000002"/>
<rect x="307.90" y="601.10" width="1.0" height="16.10" fill="#c92f28" fill-opacity="0.15000000000000002"/>
<rect x="311.30" y="601.10" width="1.1" height="16.10" fill="#c92f28" fill-opacity="0.15000000000000002"/>
<rect x="325.40" y="601.10" width="1.6" height="16.10" fill="#c92f28" fill-opacity="0.15000000000000002"/>
<rect x="327.50" y="601.10" width="1.6" height="16.10" fill="#c92f28" fill-opacity="0.88"/>
<rect x="335.80" y="601.10" width="2.1" height="16.10" fill="#c92f28" fill-opacity="0.15000000000000002"/>
<rect x="340.70" y="601.10" width="1.6" height="16.10" fill="#c92f28" fill-opacity="0.5"/>
<rect x="344.20" y="601.10" width="1.0" height="16.10" fill="#c92f28" fill-opacity="0.15000000000000002"/>
<rect x="347.40" y="601.10" width="1.0" height="16.10" fill="#c92f28" fill-opacity="0.15000000000000002"/>
<rect x="355.20" y="601.10" width="0.9" height="16.10" fill="#c92f28" fill-opacity="0.15000000000000002"/>
<rect x="359.60" y="601.10" width="0.9" height="16.10" fill="#c92f28" fill-opacity="0.5"/>
<rect x="363.30" y="601.10" width="2.4" height="16.10" fill="#c92f28" fill-opacity="0.5"/>
<rect x="368.90" y="601.10" width="1.6" height="16.10" fill="#c92f28" fill-opacity="0.5"/>
<rect x="371.30" y="601.10" width="1.7" height="16.10" fill="#c92f28" fill-opacity="0.88"/>
<rect x="377.80" y="601.10" width="2.4" height="16.10" fill="#c92f28" fill-opacity="0.15000000000000002"/>
<rect x="381.00" y="601.10" width="2.5" height="16.10" fill="#c92f28" fill-opacity="0.5"/>
<rect x="385.10" y="601.10" width="1.3" height="16.10" fill="#c92f28" fill-opacity="0.15000000000000002"/>
<rect x="389.10" y="601.10" width="1.6" height="16.10" fill="#c92f28" fill-opacity="0.5"/>
<rect x="391.50" y="601.10" width="2.5" height="16.10" fill="#c92f28" fill-opacity="0.5"/>
<rect x="396.40" y="601.10" width="2.4" height="16.10" fill="#c92f28" fill-opacity="0.88"/>
<rect x="399.60" y="601.10" width="1.3" height="16.10" fill="#c92f28" fill-opacity="0.5"/>
<rect x="402.00" y="601.10" width="2.5" height="16.10" fill="#c92f28" fill-opacity="0.5"/>
<rect x="406.10" y="601.10" width="1.6" height="16.10" fill="#c92f28" fill-opacity="0.5"/>
<rect x="408.50" y="601.10" width="1.6" height="16.10" fill="#c92f28" fill-opacity="0.88"/>
<rect x="410.90" y="601.10" width="1.6" height="16.10" fill="#c92f28" fill-opacity="0.5"/>
<rect x="412.50" y="601.10" width="2.5" height="16.10" fill="#c92f28" fill-opacity="0.88"/>
<rect x="415.00" y="601.10" width="2.7" height="16.10" fill="#c92f28" fill-opacity="0.88"/>
<rect x="85.90" y="617.20" width="4.4" height="15.60" fill="#2750b0" fill-opacity="0.5"/>
<rect x="91.40" y="617.20" width="1.0" height="15.60" fill="#2750b0" fill-opacity="0.5"/>
<rect x="95.10" y="617.20" width="1.0" height="15.60" fill="#2750b0" fill-opacity="0.2"/>
<rect x="98.30" y="617.20" width="1.7" height="15.60" fill="#2750b0" fill-opacity="0.88"/>
<rect x="100.80" y="617.20" width="1.3" height="15.60" fill="#2750b0" fill-opacity="0.5"/>
<rect x="105.60" y="617.20" width="1.3" height="15.60" fill="#2750b0" fill-opacity="0.88"/>
<rect x="113.40" y="617.20" width="1.1" height="15.60" fill="#2750b0" fill-opacity="0.88"/>
<rect x="119.80" y="617.20" width="2.0" height="15.60" fill="#2750b0" fill-opacity="0.68"/>
<rect x="123.70" y="617.20" width="1.0" height="15.60" fill="#2750b0" fill-opacity="0.5"/>
<rect x="127.40" y="617.20" width="1.2" height="15.60" fill="#2750b0" fill-opacity="0.88"/>
<rect x="130.20" y="617.20" width="1.0" height="15.60" fill="#2750b0" fill-opacity="0.5"/>
<rect x="132.60" y="617.20" width="1.0" height="15.60" fill="#2750b0" fill-opacity="0.5"/>
<rect x="135.80" y="617.20" width="1.0" height="15.60" fill="#2750b0" fill-opacity="0.5"/>
<rect x="139.90" y="617.20" width="1.0" height="15.60" fill="#2750b0" fill-opacity="0.2"/>
<rect x="143.90" y="617.20" width="1.0" height="15.60" fill="#2750b0" fill-opacity="0.5"/>
<rect x="147.90" y="617.20" width="1.0" height="15.60" fill="#2750b0" fill-opacity="0.88"/>
<rect x="157.30" y="617.20" width="1.6" height="15.60" fill="#2750b0" fill-opacity="0.5"/>
<rect x="159.70" y="617.20" width="2.5" height="15.60" fill="#2750b0" fill-opacity="0.2"/>
<rect x="165.00" y="617.20" width="0.9" height="15.60" fill="#2750b0" fill-opacity="0.2"/>
<rect x="169.80" y="617.20" width="4.1" height="15.60" fill="#2750b0" fill-opacity="0.68"/>
<rect x="179.50" y="617.20" width="0.9" height="15.60" fill="#2750b0" fill-opacity="0.2"/>
<rect x="183.10" y="617.20" width="2.6" height="15.60" fill="#2750b0" fill-opacity="0.5"/>
<rect x="189.20" y="617.20" width="4.1" height="15.60" fill="#2750b0" fill-opacity="0.2"/>
<rect x="194.10" y="617.20" width="2.4" height="15.60" fill="#2750b0" fill-opacity="0.5"/>
<rect x="202.50" y="617.20" width="1.0" height="15.60" fill="#2750b0" fill-opacity="0.2"/>
<rect x="207.00" y="617.20" width="1.6" height="15.60" fill="#2750b0" fill-opacity="0.5"/>
<rect x="210.20" y="617.20" width="1.6" height="15.60" fill="#2750b0" fill-opacity="0.5"/>
<rect x="224.30" y="617.20" width="1.0" height="15.60" fill="#2750b0" fill-opacity="0.2"/>
<rect x="230.40" y="617.20" width="2.5" height="15.60" fill="#2750b0" fill-opacity="0.5"/>
<rect x="232.90" y="617.20" width="1.2" height="15.60" fill="#2750b0" fill-opacity="0.88"/>
<rect x="238.80" y="617.20" width="1.0" height="15.60" fill="#2750b0" fill-opacity="0.2"/>
<rect x="243.40" y="617.20" width="5.6" height="15.60" fill="#2750b0" fill-opacity="0.2"/>
<rect x="247.00" y="617.20" width="1.3" height="15.60" fill="#2750b0" fill-opacity="0.2"/>
<rect x="249.70" y="617.20" width="1.0" height="15.60" fill="#2750b0" fill-opacity="0.5"/>
<rect x="253.30" y="617.20" width="1.0" height="15.60" fill="#2750b0" fill-opacity="0.5"/>
<rect x="257.50" y="617.20" width="0.9" height="15.60" fill="#2750b0" fill-opacity="0.5"/>
<rect x="279.60" y="617.20" width="1.0" height="15.60" fill="#2750b0" fill-opacity="0.5"/>
<rect x="295.00" y="617.20" width="1.0" height="15.60" fill="#2750b0" fill-opacity="0.5"/>
<rect x="309.20" y="617.20" width="1.0" height="15.60" fill="#2750b0" fill-opacity="0.2"/>
<rect x="316.30" y="617.20" width="1.0" height="15.60" fill="#2750b0" fill-opacity="0.5"/>
<rect x="327.30" y="617.20" width="1.0" height="15.60" fill="#2750b0" fill-opacity="0.2"/>
<rect x="340.20" y="617.20" width="1.0" height="15.60" fill="#2750b0" fill-opacity="0.5"/>
<rect x="357.90" y="617.20" width="1.0" height="15.60" fill="#2750b0" fill-opacity="0.5"/>
<rect x="363.60" y="617.20" width="1.0" height="15.60" fill="#2750b0" fill-opacity="0.5"/>
<rect x="380.10" y="617.20" width="1.0" height="15.60" fill="#2750b0" fill-opacity="0.2"/>
<rect x="390.70" y="617.20" width="1.0" height="15.60" fill="#2750b0" fill-opacity="0.88"/>
<rect x="400.70" y="617.20" width="1.0" height="15.60" fill="#2750b0" fill-opacity="0.5"/>
<rect x="404.80" y="617.20" width="1.0" height="15.60" fill="#2750b0" fill-opacity="0.2"/>
<text x="44.80" y="620.20" font-size="8.3" stroke="#222" stroke-width="0.03" textLength="34.50" lengthAdjust="spacingAndGlyphs">0.000966</text>
<text x="439.70" y="620.10" font-size="8.3" stroke="#222" stroke-width="0.03" text-anchor="middle" textLength="25.20" lengthAdjust="spacingAndGlyphs">PA2G4</text>
<rect x="470.20" y="600.40" width="16.80" height="33.60" fill="#d0625d"/>
<rect x="336" y="634.70" width="82" height="16.05" fill="#c92f28" fill-opacity="0.1"/>
<rect x="86.50" y="634.70" width="1.0" height="16.05" fill="#c92f28" fill-opacity="0.06"/>
<rect x="144.70" y="634.70" width="1.0" height="16.05" fill="#c92f28" fill-opacity="0.06"/>
<rect x="163.00" y="634.70" width="1.0" height="16.05" fill="#c92f28" fill-opacity="0.06"/>
<rect x="187.10" y="634.70" width="1.0" height="16.05" fill="#c92f28" fill-opacity="0.5"/>
<rect x="190.70" y="634.70" width="1.0" height="16.05" fill="#c92f28" fill-opacity="0.88"/>
<rect x="200.80" y="634.70" width="1.0" height="16.05" fill="#c92f28" fill-opacity="0.15000000000000002"/>
<rect x="214.90" y="634.70" width="1.0" height="16.05" fill="#c92f28" fill-opacity="0.15000000000000002"/>
<rect x="235.60" y="634.70" width="1.0" height="16.05" fill="#c92f28" fill-opacity="0.88"/>
<rect x="248.20" y="634.70" width="1.2" height="16.05" fill="#c92f28" fill-opacity="0.5"/>
<rect x="252.20" y="634.70" width="1.3" height="16.05" fill="#c92f28" fill-opacity="0.5"/>
<rect x="260.70" y="634.70" width="1.2" height="16.05" fill="#c92f28" fill-opacity="0.5"/>
<rect x="264.00" y="634.70" width="1.1" height="16.05" fill="#c92f28" fill-opacity="0.5"/>
<rect x="272.00" y="634.70" width="1.7" height="16.05" fill="#c92f28" fill-opacity="0.88"/>
<rect x="275.30" y="634.70" width="1.1" height="16.05" fill="#c92f28" fill-opacity="0.15000000000000002"/>
<rect x="279.30" y="634.70" width="1.6" height="16.05" fill="#c92f28" fill-opacity="0.5"/>
<rect x="281.70" y="634.70" width="1.6" height="16.05" fill="#c92f28" fill-opacity="0.15000000000000002"/>
<rect x="289.00" y="634.70" width="1.6" height="16.05" fill="#c92f28" fill-opacity="0.88"/>
<rect x="290.90" y="634.70" width="1.3" height="16.05" fill="#c92f28" fill-opacity="0.5"/>
<rect x="297.40" y="634.70" width="1.3" height="16.05" fill="#c92f28" fill-opacity="0.88"/>
<rect x="301.10" y="634.70" width="1.1" height="16.05" fill="#c92f28" fill-opacity="0.5"/>
<rect x="305.50" y="634.70" width="2.9" height="16.05" fill="#c92f28" fill-opacity="0.88"/>
<rect x="316.50" y="634.70" width="1.6" height="16.05" fill="#c92f28" fill-opacity="0.5"/>
<rect x="321.60" y="634.70" width="1.0" height="16.05" fill="#c92f28" fill-opacity="0.15000000000000002"/>
<rect x="326.20" y="634.70" width="2.4" height="16.05" fill="#c92f28" fill-opacity="0.88"/>
<rect x="329.40" y="634.70" width="1.6" height="16.05" fill="#c92f28" fill-opacity="0.5"/>
<rect x="336.60" y="634.70" width="2.4" height="16.05" fill="#c92f28" fill-opacity="0.88"/>
<rect x="339.00" y="634.70" width="3.3" height="16.05" fill="#c92f28" fill-opacity="0.34"/>
<rect x="342.30" y="634.70" width="4.0" height="16.05" fill="#c92f28" fill-opacity="0.5"/>
<rect x="347.10" y="634.70" width="1.6" height="16.05" fill="#c92f28" fill-opacity="0.15000000000000002"/>
<rect x="349.50" y="634.70" width="4.1" height="16.05" fill="#c92f28" fill-opacity="0.5"/>
<rect x="354.10" y="634.70" width="3.5" height="16.05" fill="#c92f28" fill-opacity="0.68"/>
<rect x="357.60" y="634.70" width="3.2" height="16.05" fill="#c92f28" fill-opacity="0.5"/>
<rect x="360.80" y="634.70" width="3.3" height="16.05" fill="#c92f28" fill-opacity="0.5"/>
<rect x="364.10" y="634.70" width="3.2" height="16.05" fill="#c92f28" fill-opacity="0.34"/>
<rect x="367.30" y="634.70" width="4.9" height="16.05" fill="#c92f28" fill-opacity="0.5"/>
<rect x="372.50" y="634.70" width="1.6" height="16.05" fill="#c92f28" fill-opacity="0.88"/>
<rect x="375.40" y="634.70" width="4.8" height="16.05" fill="#c92f28" fill-opacity="0.5"/>
<rect x="381.00" y="634.70" width="5.7" height="16.05" fill="#c92f28" fill-opacity="0.68"/>
<rect x="386.70" y="634.70" width="4.8" height="16.05" fill="#c92f28" fill-opacity="0.5"/>
<rect x="391.50" y="634.70" width="7.3" height="16.05" fill="#c92f28" fill-opacity="0.68"/>
<rect x="398.80" y="634.70" width="4.1" height="16.05" fill="#c92f28" fill-opacity="0.88"/>
<rect x="402.90" y="634.70" width="4.8" height="16.05" fill="#c92f28" fill-opacity="0.88"/>
<rect x="407.70" y="634.70" width="4.8" height="16.05" fill="#c92f28" fill-opacity="0.68"/>
<rect x="412.50" y="634.70" width="5.5" height="16.05" fill="#c92f28" fill-opacity="0.88"/>
<rect x="85.90" y="650.75" width="1.6" height="15.55" fill="#2750b0" fill-opacity="0.5"/>
<rect x="87.50" y="650.75" width="2.8" height="15.55" fill="#2750b0" fill-opacity="0.88"/>
<rect x="91.90" y="650.75" width="1.6" height="15.55" fill="#2750b0" fill-opacity="0.5"/>
<rect x="95.10" y="650.75" width="1.6" height="15.55" fill="#2750b0" fill-opacity="0.2"/>
<rect x="98.30" y="650.75" width="1.7" height="15.55" fill="#2750b0" fill-opacity="0.5"/>
<rect x="102.40" y="650.75" width="0.9" height="15.55" fill="#2750b0" fill-opacity="0.2"/>
<rect x="104.00" y="650.75" width="1.6" height="15.55" fill="#2750b0" fill-opacity="0.5"/>
<rect x="107.60" y="650.75" width="1.2" height="15.55" fill="#2750b0" fill-opacity="0.5"/>
<rect x="111.30" y="650.75" width="1.6" height="15.55" fill="#2750b0" fill-opacity="0.2"/>
<rect x="112.90" y="650.75" width="1.6" height="15.55" fill="#2750b0" fill-opacity="0.5"/>
<rect x="116.10" y="650.75" width="1.1" height="15.55" fill="#2750b0" fill-opacity="0.5"/>
<rect x="122.60" y="650.75" width="0.9" height="15.55" fill="#2750b0" fill-opacity="0.5"/>
<rect x="129.80" y="650.75" width="1.0" height="15.55" fill="#2750b0" fill-opacity="0.88"/>
<rect x="132.90" y="650.75" width="1.0" height="15.55" fill="#2750b0" fill-opacity="0.5"/>
<rect x="142.00" y="650.75" width="1.6" height="15.55" fill="#2750b0" fill-opacity="0.5"/>
<rect x="145.20" y="650.75" width="1.6" height="15.55" fill="#2750b0" fill-opacity="0.88"/>
<rect x="150.00" y="650.75" width="1.7" height="15.55" fill="#2750b0" fill-opacity="0.5"/>
<rect x="152.50" y="650.75" width="1.6" height="15.55" fill="#2750b0" fill-opacity="0.2"/>
<rect x="156.50" y="650.75" width="1.6" height="15.55" fill="#2750b0" fill-opacity="0.5"/>
<rect x="162.20" y="650.75" width="3.2" height="15.55" fill="#2750b0" fill-opacity="0.2"/>
<rect x="165.00" y="650.75" width="2.4" height="15.55" fill="#2750b0" fill-opacity="0.5"/>
<rect x="170.70" y="650.75" width="1.6" height="15.55" fill="#2750b0" fill-opacity="0.5"/>
<rect x="185.20" y="650.75" width="1.0" height="15.55" fill="#2750b0" fill-opacity="0.2"/>
<rect x="193.30" y="650.75" width="4.8" height="15.55" fill="#2750b0" fill-opacity="0.5"/>
<rect x="203.30" y="650.75" width="1.0" height="15.55" fill="#2750b0" fill-opacity="0.2"/>
<rect x="207.30" y="650.75" width="1.0" height="15.55" fill="#2750b0" fill-opacity="0.2"/>
<rect x="214.60" y="650.75" width="1.0" height="15.55" fill="#2750b0" fill-opacity="0.2"/>
<rect x="218.30" y="650.75" width="1.3" height="15.55" fill="#2750b0" fill-opacity="0.5"/>
<rect x="222.70" y="650.75" width="1.0" height="15.55" fill="#2750b0" fill-opacity="0.2"/>
<rect x="235.60" y="650.75" width="1.0" height="15.55" fill="#2750b0" fill-opacity="0.2"/>
<rect x="253.30" y="650.75" width="1.0" height="15.55" fill="#2750b0" fill-opacity="0.2"/>
<rect x="258.60" y="650.75" width="1.0" height="15.55" fill="#2750b0" fill-opacity="0.2"/>
<rect x="263.50" y="650.75" width="1.0" height="15.55" fill="#2750b0" fill-opacity="0.2"/>
<rect x="275.90" y="650.75" width="1.0" height="15.55" fill="#2750b0" fill-opacity="0.2"/>
<rect x="278.80" y="650.75" width="1.0" height="15.55" fill="#2750b0" fill-opacity="0.2"/>
<rect x="317.90" y="650.75" width="1.0" height="15.55" fill="#2750b0" fill-opacity="0.2"/>
<rect x="339.00" y="650.75" width="1.0" height="15.55" fill="#2750b0" fill-opacity="0.2"/>
<rect x="350.30" y="650.75" width="1.7" height="15.55" fill="#2750b0" fill-opacity="0.2"/>
<text x="44.80" y="653.75" font-size="8.3" stroke="#222" stroke-width="0.03" textLength="30.00" lengthAdjust="spacingAndGlyphs">0.00143</text>
<text x="439.70" y="653.65" font-size="8.3" stroke="#222" stroke-width="0.03" text-anchor="middle" textLength="27.40" lengthAdjust="spacingAndGlyphs">TRIM28</text>
<rect x="470.20" y="634.00" width="16.80" height="33.50" fill="#d3706c"/>
<line x1="44.30" y1="501.20" x2="462.20" y2="501.20" stroke="#222" stroke-width="1.1"/>
<line x1="470.20" y1="501.20" x2="487.00" y2="501.20" stroke="#3a0a08" stroke-width="1.1"/>
<line x1="44.30" y1="535.80" x2="462.20" y2="535.80" stroke="#222" stroke-width="1.1"/>
<line x1="470.20" y1="535.80" x2="487.00" y2="535.80" stroke="#3a0a08" stroke-width="1.1"/>
<line x1="44.30" y1="568.30" x2="462.20" y2="568.30" stroke="#222" stroke-width="1.1"/>
<line x1="470.20" y1="568.30" x2="487.00" y2="568.30" stroke="#3a0a08" stroke-width="1.1"/>
<line x1="44.30" y1="600.40" x2="462.20" y2="600.40" stroke="#222" stroke-width="1.1"/>
<line x1="470.20" y1="600.40" x2="487.00" y2="600.40" stroke="#3a0a08" stroke-width="1.1"/>
<line x1="44.30" y1="634.00" x2="462.20" y2="634.00" stroke="#222" stroke-width="1.1"/>
<line x1="470.20" y1="634.00" x2="487.00" y2="634.00" stroke="#3a0a08" stroke-width="1.1"/>
<line x1="44.30" y1="667.50" x2="462.20" y2="667.50" stroke="#222" stroke-width="1.1"/>
<line x1="470.20" y1="667.50" x2="487.00" y2="667.50" stroke="#3a0a08" stroke-width="1.1"/>
<line x1="83.50" y1="501.20" x2="83.50" y2="667.50" stroke="#222" stroke-width="1.1"/>
<line x1="418.50" y1="501.20" x2="418.50" y2="667.50" stroke="#222" stroke-width="1.1"/>
</svg>
</body></html>
